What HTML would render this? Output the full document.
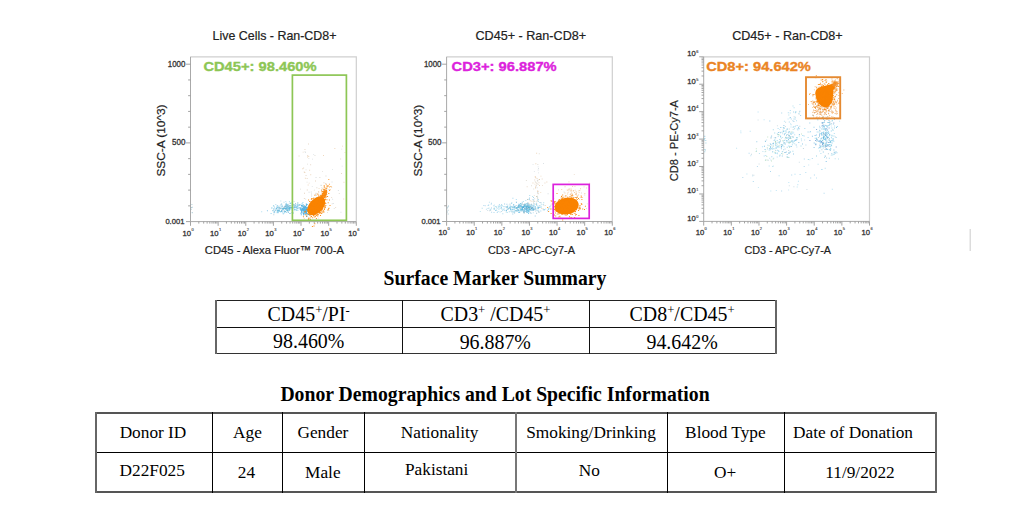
<!DOCTYPE html>
<html><head><meta charset="utf-8"><style>
html,body{margin:0;padding:0;background:#fff;}
body{width:1010px;height:513px;position:relative;overflow:hidden;}
.plots{position:absolute;left:0;top:0;}
.ln{position:absolute;}
.tx{position:absolute;transform:translateX(-50%);font-family:"Liberation Serif",serif;color:#000;line-height:0;white-space:nowrap;height:0;}
.tx sup{font-size:0.64em;vertical-align:0;position:relative;top:-0.53em;line-height:0;}
</style></head><body>
<svg class="plots" width="1010" height="513" viewBox="0 0 1010 513" font-family="Liberation Sans, sans-serif"><style>.tl{fill:#333;stroke:#333;stroke-width:0.3px}.te{fill:#4a4a4a;stroke:#4a4a4a;stroke-width:0.15px}</style><path d="M190.50 56.80H356.30V221.60" stroke="#cfcfcf" stroke-width="1.2" fill="none"/>
<path d="M190.50 56.80V221.60H356.30" stroke="#a9a9a9" stroke-width="1" fill="none"/>
<path d="M190.50 221.60v4.2M198.82 221.60v2M203.68 221.60v2M207.14 221.60v2M209.81 221.60v2M212.00 221.60v2M213.85 221.60v2M215.46 221.60v2M216.87 221.60v2M218.13 221.60v4.2M226.45 221.60v2M231.32 221.60v2M234.77 221.60v2M237.45 221.60v2M239.64 221.60v2M241.49 221.60v2M243.09 221.60v2M244.50 221.60v2M245.77 221.60v4.2M254.09 221.60v2M258.95 221.60v2M262.40 221.60v2M265.08 221.60v2M267.27 221.60v2M269.12 221.60v2M270.72 221.60v2M272.14 221.60v2M273.40 221.60v4.2M281.72 221.60v2M286.58 221.60v2M290.04 221.60v2M292.71 221.60v2M294.90 221.60v2M296.75 221.60v2M298.36 221.60v2M299.77 221.60v2M301.03 221.60v4.2M309.35 221.60v2M314.22 221.60v2M317.67 221.60v2M320.35 221.60v2M322.54 221.60v2M324.39 221.60v2M325.99 221.60v2M327.40 221.60v2M328.67 221.60v4.2M336.99 221.60v2M341.85 221.60v2M345.30 221.60v2M347.98 221.60v2M350.17 221.60v2M352.02 221.60v2M353.62 221.60v2M355.04 221.60v2M356.30 221.60v4.2" stroke="#9a9a9a" stroke-width="0.9" fill="none"/>
<text x="191.00" y="235.50" text-anchor="end" font-size="7.7" class="tl">10</text>
<text x="191.40" y="230.50" font-size="4.0" class="te">0</text>
<text x="218.63" y="235.50" text-anchor="end" font-size="7.7" class="tl">10</text>
<text x="219.03" y="230.50" font-size="4.0" class="te">1</text>
<text x="246.27" y="235.50" text-anchor="end" font-size="7.7" class="tl">10</text>
<text x="246.67" y="230.50" font-size="4.0" class="te">2</text>
<text x="273.90" y="235.50" text-anchor="end" font-size="7.7" class="tl">10</text>
<text x="274.30" y="230.50" font-size="4.0" class="te">3</text>
<text x="301.53" y="235.50" text-anchor="end" font-size="7.7" class="tl">10</text>
<text x="301.93" y="230.50" font-size="4.0" class="te">4</text>
<text x="329.17" y="235.50" text-anchor="end" font-size="7.7" class="tl">10</text>
<text x="329.57" y="230.50" font-size="4.0" class="te">5</text>
<text x="356.80" y="235.50" text-anchor="end" font-size="7.7" class="tl">10</text>
<text x="357.20" y="230.50" font-size="4.0" class="te">6</text>
<path d="M186.00 221.60h4.50M188.10 205.86h2.40M188.10 190.12h2.40M188.10 174.38h2.40M188.10 158.64h2.40M186.00 142.90h4.50M188.10 127.16h2.40M188.10 111.42h2.40M188.10 95.68h2.40M188.10 79.94h2.40M186.00 64.20h4.50" stroke="#9a9a9a" stroke-width="0.9" fill="none"/>
<text x="185.40" y="66.90" text-anchor="end" font-size="8.3" class="tl" textLength="17.6" lengthAdjust="spacingAndGlyphs">1000</text>
<text x="185.40" y="145.30" text-anchor="end" font-size="8.3" class="tl" textLength="13.4" lengthAdjust="spacingAndGlyphs">500</text>
<text x="184.40" y="223.60" text-anchor="end" font-size="7.8" class="tl" textLength="19.0" lengthAdjust="spacingAndGlyphs">0.001</text>
<path d="M191.4 204.1h1v1h-1zM191.8 212.2h1v1h-1zM191.7 212h1v1h-1zM190.8 208.7h1v1h-1zM191 207h1v1h-1zM191.8 206.8h1v1h-1z" fill="#8fb8c8" fill-opacity="0.7"/>
<path d="M292.5 204.1h1v1h-1zM294.6 209.5h1v1h-1zM285.5 207.8h1v1h-1zM270.6 213h1v1h-1zM296.8 205.9h1v1h-1zM294.6 206.7h1v1h-1zM283.3 207.4h1v1h-1zM294.6 206.3h1v1h-1zM293.9 209h1v1h-1zM284 212.2h1v1h-1zM287.3 210h1v1h-1zM289.1 207.7h1v1h-1zM288.2 205.9h1v1h-1zM289.9 208.3h1v1h-1zM285.9 202.8h1v1h-1zM280.7 204.3h1v1h-1zM296 206.8h1v1h-1zM286.3 206.7h1v1h-1zM282.7 212.7h1v1h-1zM281.2 210.4h1v1h-1zM282.3 209.3h1v1h-1zM284.9 207.9h1v1h-1zM296.2 210.1h1v1h-1zM295.3 205.4h1v1h-1zM289.9 202.9h1v1h-1zM284.2 205.7h1v1h-1zM299.2 204.3h1v1h-1zM287 210.2h1v1h-1zM286 204h1v1h-1zM291.7 204.5h1v1h-1zM278.3 210.5h1v1h-1zM280.3 207.4h1v1h-1zM291.3 205.4h1v1h-1zM276.7 205.3h1v1h-1z" fill="#4bb4e2" fill-opacity="0.6"/><path d="M287.4 205.7h1v1h-1zM295 204.6h1v1h-1zM287.8 209.3h1v1h-1zM282.4 208.3h1v1h-1zM276.2 208h1v1h-1zM297.2 207.9h1v1h-1zM285 205.6h1v1h-1zM287.1 209.6h1v1h-1zM277 210.6h1v1h-1zM280.2 207.7h1v1h-1zM288.8 208.9h1v1h-1zM287.5 206.5h1v1h-1zM285.2 203.4h1v1h-1zM286.3 206.2h1v1h-1zM281.5 205.8h1v1h-1zM285.1 206.8h1v1h-1zM285.8 208.3h1v1h-1zM296.6 208h1v1h-1zM302.4 208.9h1v1h-1zM279.6 205.6h1v1h-1zM274.3 211.5h1v1h-1zM278.8 207.3h1v1h-1zM302.4 201.9h1v1h-1zM286.3 204.6h1v1h-1zM297.5 206.3h1v1h-1zM277.4 207.4h1v1h-1zM287.4 207.8h1v1h-1zM282.1 211.5h1v1h-1zM301.2 209.1h1v1h-1zM287.6 211.6h1v1h-1zM295 208.8h1v1h-1zM280.6 211.3h1v1h-1zM291.5 212.1h1v1h-1zM278.9 210.2h1v1h-1zM294 208.5h1v1h-1zM296.2 209h1v1h-1zM276.2 206.4h1v1h-1zM284.4 210.9h1v1h-1zM277.6 212.3h1v1h-1zM275 210.1h1v1h-1zM286.2 205.5h1v1h-1zM278.1 207.8h1v1h-1zM288.3 207.9h1v1h-1zM301.6 202.9h1v1h-1zM274.3 207.8h1v1h-1z" fill="#62c0e6" fill-opacity="0.6"/><path d="M266.9 210.2h1v1h-1zM279 207.4h1v1h-1zM282.4 208.5h1v1h-1zM284.3 207.6h1v1h-1zM283.5 207.9h1v1h-1zM289.7 207.2h1v1h-1zM284.8 211h1v1h-1zM278.8 209.2h1v1h-1zM286.8 205.5h1v1h-1zM294.7 207.1h1v1h-1zM278.2 210.4h1v1h-1zM280.7 211h1v1h-1zM286.4 207.4h1v1h-1zM281.4 208.2h1v1h-1zM275.8 208h1v1h-1zM297.3 204.9h1v1h-1zM291.8 206.4h1v1h-1zM277.5 211.8h1v1h-1zM285.1 208.4h1v1h-1zM294 206.6h1v1h-1zM283.7 210.5h1v1h-1zM288.9 207.5h1v1h-1zM299.1 207.2h1v1h-1zM283.8 208h1v1h-1zM276.7 207.1h1v1h-1zM296.7 204.1h1v1h-1zM289.2 207.1h1v1h-1zM273.9 211.3h1v1h-1zM277.8 209.5h1v1h-1zM285.1 205.5h1v1h-1zM291 207h1v1h-1zM273 208.6h1v1h-1zM297.9 207.5h1v1h-1zM306.9 204.1h1v1h-1zM289.2 205.1h1v1h-1zM281.5 206.6h1v1h-1zM281.3 210.4h1v1h-1zM286.2 208.3h1v1h-1zM294.2 204.5h1v1h-1z" fill="#3a9fd6" fill-opacity="0.6"/><path d="M287.1 209.7h1v1h-1zM277.1 210.4h1v1h-1zM274.7 209h1v1h-1zM287.1 210.1h1v1h-1zM287.9 208h1v1h-1zM282.8 213.6h1v1h-1zM288.4 206.6h1v1h-1zM287.5 205h1v1h-1zM287.2 209.4h1v1h-1zM272.9 205.5h1v1h-1zM299.8 204.1h1v1h-1zM276.5 212.2h1v1h-1zM291.6 209.1h1v1h-1zM291.3 209.4h1v1h-1zM293 204.5h1v1h-1zM286.4 208.3h1v1h-1zM261.2 211.3h1v1h-1zM279 210.7h1v1h-1zM276.9 209.4h1v1h-1zM287.2 205.3h1v1h-1zM271.1 207.4h1v1h-1zM287.4 205.1h1v1h-1zM297.4 205.2h1v1h-1zM287.6 203.8h1v1h-1zM286.4 206.8h1v1h-1zM280.4 208.4h1v1h-1z" fill="#7fcbe8" fill-opacity="0.6"/><path d="M272.4 210h1v1h-1zM286.7 208.3h1v1h-1zM277.4 209.9h1v1h-1zM286.8 209.7h1v1h-1zM291.3 202.4h1v1h-1zM283.3 208.4h1v1h-1zM285.7 211.9h1v1h-1zM286.7 207h1v1h-1zM289.2 213.1h1v1h-1zM273.6 212.2h1v1h-1zM285.3 205.9h1v1h-1zM273.4 212.2h1v1h-1zM286.8 208.2h1v1h-1zM281.3 210.1h1v1h-1zM277.3 205.6h1v1h-1zM286.4 204.9h1v1h-1zM296.5 207.1h1v1h-1zM282.5 207.9h1v1h-1zM288.6 207.1h1v1h-1zM285.4 208.4h1v1h-1zM291 207.5h1v1h-1zM286.8 210.2h1v1h-1zM281.8 205.6h1v1h-1zM288.8 208.4h1v1h-1zM288.6 207.5h1v1h-1zM291.7 207.3h1v1h-1zM293 212.5h1v1h-1zM293.2 206.4h1v1h-1zM289.1 210.1h1v1h-1zM290 206.9h1v1h-1zM301.5 204.7h1v1h-1z" fill="#4aa6d4" fill-opacity="0.6"/><path d="M276.2 208.8h1v1h-1zM271.5 207.6h1v1h-1zM288.2 207.3h1v1h-1zM297.1 202.5h1v1h-1zM293.8 207.1h1v1h-1zM285.8 209.9h1v1h-1zM298.1 204.4h1v1h-1zM297.4 209.7h1v1h-1zM295.4 205.2h1v1h-1zM282.6 208.8h1v1h-1zM283.9 207.8h1v1h-1zM278.8 210.3h1v1h-1zM282.7 208.4h1v1h-1zM277.8 206.7h1v1h-1zM289.3 207.5h1v1h-1zM273.2 205.3h1v1h-1zM285.2 211.1h1v1h-1zM287.6 209.9h1v1h-1zM291.4 207.7h1v1h-1zM288.9 201.3h1v1h-1zM284.8 208h1v1h-1zM285.3 208.6h1v1h-1zM289.3 208.9h1v1h-1zM302.3 204.8h1v1h-1zM284.6 208.3h1v1h-1zM291.7 211.7h1v1h-1zM288.4 205.9h1v1h-1zM283.8 207.7h1v1h-1zM288.5 208.7h1v1h-1zM284.5 211h1v1h-1zM280 211.2h1v1h-1zM298.5 204.1h1v1h-1zM286 209.6h1v1h-1zM272.7 210.4h1v1h-1zM290 205.1h1v1h-1zM288.9 207.6h1v1h-1zM276.8 211.6h1v1h-1z" fill="#5cbcd6" fill-opacity="0.6"/><path d="M296.5 207.9h1v1h-1zM284.2 206.3h1v1h-1zM292.8 208.3h1v1h-1zM288.7 205.6h1v1h-1zM287.4 204.2h1v1h-1zM297.5 202.6h1v1h-1zM289.8 206.1h1v1h-1zM285.3 205.9h1v1h-1zM286.7 209h1v1h-1zM278.9 207.8h1v1h-1zM283.7 210.4h1v1h-1zM273.3 214.2h1v1h-1zM292.3 207.3h1v1h-1zM283.8 205.9h1v1h-1zM274.4 209.7h1v1h-1zM298.9 205.1h1v1h-1zM286.6 205.7h1v1h-1zM287.9 211.4h1v1h-1zM294.2 204.4h1v1h-1zM280.1 208h1v1h-1zM285.1 204.2h1v1h-1zM283.8 206.9h1v1h-1zM288.2 204.8h1v1h-1zM282.9 207.6h1v1h-1zM278.4 206.4h1v1h-1zM293.5 205.6h1v1h-1zM295.1 202.9h1v1h-1zM293.1 204.6h1v1h-1z" fill="#8fb4c4" fill-opacity="0.6"/>
<path d="M287.9 212h1v1h-1zM290 202.4h1v1h-1zM285.3 200.9h1v1h-1zM291.9 201.1h1v1h-1z" fill="#4bb4e2" fill-opacity="0.4"/><path d="M293.5 210.3h1v1h-1z" fill="#62c0e6" fill-opacity="0.4"/><path d="M274 206.6h1v1h-1zM290.2 212.9h1v1h-1zM283.5 201.7h1v1h-1z" fill="#3a9fd6" fill-opacity="0.4"/><path d="M295 202.9h1v1h-1zM280.4 204.3h1v1h-1zM296.3 206.5h1v1h-1zM280.9 203h1v1h-1zM293 203.8h1v1h-1z" fill="#7fcbe8" fill-opacity="0.4"/><path d="M275.3 204h1v1h-1z" fill="#4aa6d4" fill-opacity="0.4"/><path d="M280.3 200.4h1v1h-1zM276.5 210h1v1h-1zM276.2 210.2h1v1h-1zM286.9 203.9h1v1h-1zM295.9 206.3h1v1h-1zM283.2 208h1v1h-1zM292.6 207.1h1v1h-1z" fill="#5cbcd6" fill-opacity="0.4"/><path d="M292 213.5h1v1h-1zM293.6 201.1h1v1h-1zM289.4 203.1h1v1h-1zM281.4 203.8h1v1h-1z" fill="#8fb4c4" fill-opacity="0.4"/>
<path d="M304.7 207.1h1v1h-1zM299.8 207.2h1v1h-1zM305.2 207.1h1v1h-1zM304.4 210.1h1v1h-1zM305.5 208.2h1v1h-1zM304.7 207h1v1h-1zM302.8 207.3h1v1h-1zM306.8 208.6h1v1h-1zM302.7 209.2h1v1h-1zM304.7 211.4h1v1h-1zM300.3 208.2h1v1h-1zM306 216h1v1h-1zM306.4 208.5h1v1h-1zM307.8 214h1v1h-1zM303.7 208.8h1v1h-1zM307.4 209.8h1v1h-1zM305.4 207.8h1v1h-1zM310 212.2h1v1h-1zM306.3 210.7h1v1h-1zM300.9 212.6h1v1h-1zM304.5 210.7h1v1h-1zM305.6 208.2h1v1h-1zM301.3 211.7h1v1h-1zM302.7 209.3h1v1h-1zM302.9 209.1h1v1h-1zM300.8 214.2h1v1h-1zM306 212h1v1h-1zM308.6 208.1h1v1h-1zM300 208.7h1v1h-1zM301.6 209.2h1v1h-1zM302.9 204.5h1v1h-1zM303.9 205.6h1v1h-1zM305 209h1v1h-1zM303.8 209.6h1v1h-1zM302.8 208.4h1v1h-1zM301 210.7h1v1h-1zM310.1 213h1v1h-1zM307.9 210.2h1v1h-1zM304.4 213.5h1v1h-1zM304.3 209.4h1v1h-1zM304 209.9h1v1h-1zM303.5 209.6h1v1h-1zM301.9 209.4h1v1h-1zM309.2 207.6h1v1h-1zM304.5 211h1v1h-1zM305 206.2h1v1h-1zM304.9 211.9h1v1h-1zM305.2 209.6h1v1h-1zM307.1 206.7h1v1h-1zM304.2 208.2h1v1h-1zM305.8 203.6h1v1h-1zM302.6 208.7h1v1h-1zM306.4 210.5h1v1h-1zM306 204.6h1v1h-1zM305.8 208.2h1v1h-1zM303.6 211.3h1v1h-1zM300.8 205.1h1v1h-1zM302.4 206.1h1v1h-1zM303.5 210.9h1v1h-1zM306.6 213.1h1v1h-1zM302.7 205.9h1v1h-1zM302.1 207.8h1v1h-1zM302.4 211.5h1v1h-1zM301.4 205.2h1v1h-1zM305.8 208.7h1v1h-1zM305.3 209.5h1v1h-1zM305.8 209.1h1v1h-1zM307.4 209.6h1v1h-1zM305.7 210.2h1v1h-1zM301.3 210.2h1v1h-1zM304.1 210.2h1v1h-1zM303.1 214.5h1v1h-1zM303.6 206.5h1v1h-1zM300.7 210.1h1v1h-1zM303.7 207.8h1v1h-1zM304.1 207.9h1v1h-1zM305 207.3h1v1h-1zM305.3 211.9h1v1h-1zM308.9 205.1h1v1h-1zM302.8 207.8h1v1h-1zM305.1 206.1h1v1h-1zM303.5 209.8h1v1h-1zM301.6 207.9h1v1h-1zM301.6 204.7h1v1h-1zM301.1 209.6h1v1h-1zM304.6 208.9h1v1h-1zM300.4 209.7h1v1h-1zM306.6 210.3h1v1h-1zM303.5 207.4h1v1h-1zM305.3 207.6h1v1h-1zM301.4 208.4h1v1h-1zM307.7 208.9h1v1h-1zM306.5 207.5h1v1h-1zM305.9 207.3h1v1h-1zM306.4 215.7h1v1h-1zM305.6 207.7h1v1h-1zM304.6 210.4h1v1h-1zM306.6 207.4h1v1h-1zM300.7 210.1h1v1h-1zM304.6 209.8h1v1h-1zM307.5 209.3h1v1h-1zM305.2 206.2h1v1h-1zM308.2 214h1v1h-1zM306.3 209.5h1v1h-1zM306.4 213.8h1v1h-1zM302.5 209.9h1v1h-1zM306.1 211h1v1h-1zM303.9 210.6h1v1h-1zM304 210h1v1h-1zM303.2 206.8h1v1h-1zM305.2 211.7h1v1h-1zM302.3 209.6h1v1h-1zM304.9 206.4h1v1h-1zM303.9 206.8h1v1h-1zM308.9 214.3h1v1h-1zM308.5 207.4h1v1h-1zM306.1 209.2h1v1h-1zM306.1 213.2h1v1h-1zM302.7 213.1h1v1h-1zM305.7 213h1v1h-1zM304.3 207.7h1v1h-1zM305.7 211.1h1v1h-1zM305 210.7h1v1h-1zM301.5 204.7h1v1h-1zM307 210.5h1v1h-1zM304.9 209.6h1v1h-1zM306.2 207.6h1v1h-1zM302.9 209.6h1v1h-1zM305.7 205.2h1v1h-1zM306.4 207h1v1h-1zM303.3 213.4h1v1h-1zM303.1 206.4h1v1h-1zM304.6 212h1v1h-1zM306.6 207.6h1v1h-1zM306 210.9h1v1h-1zM303.5 210.9h1v1h-1zM304 208.2h1v1h-1zM303.5 210h1v1h-1zM304.1 208.1h1v1h-1zM304.6 212.5h1v1h-1zM305.7 211.5h1v1h-1zM307.5 210h1v1h-1zM308.5 205.8h1v1h-1zM305.9 208.1h1v1h-1zM309.8 212.3h1v1h-1zM299.6 208.6h1v1h-1zM306.6 210.9h1v1h-1zM306 208.8h1v1h-1zM306 210.8h1v1h-1zM305.3 212.1h1v1h-1zM300.4 212.7h1v1h-1zM303.2 212.6h1v1h-1zM303.2 207.5h1v1h-1zM304.5 207h1v1h-1zM301.2 206.4h1v1h-1zM304.9 210.7h1v1h-1zM306.5 208.4h1v1h-1zM306.7 208.8h1v1h-1zM304.8 211h1v1h-1zM306.4 207.9h1v1h-1z" fill="#3aa6dc" fill-opacity="0.85"/>
<path d="M315.7 193.4h0.9v0.9h-0.9zM306.8 189.6h0.9v0.9h-0.9zM323.5 182.3h0.9v0.9h-0.9zM320 194.5h0.9v0.9h-0.9zM322.1 192.9h0.9v0.9h-0.9zM324.6 192.1h0.9v0.9h-0.9zM312.8 202.2h0.9v0.9h-0.9zM304 192.8h0.9v0.9h-0.9zM331.2 197.2h0.9v0.9h-0.9zM315.1 180.5h0.9v0.9h-0.9zM316.2 194.8h0.9v0.9h-0.9zM335.2 207.2h0.9v0.9h-0.9zM322.2 191.1h0.9v0.9h-0.9zM324.5 203.9h0.9v0.9h-0.9zM313 201h0.9v0.9h-0.9zM316.9 203.4h0.9v0.9h-0.9z" fill="#c9a27a" fill-opacity="0.5"/><path d="M317.7 199h0.9v0.9h-0.9zM324.2 197.3h0.9v0.9h-0.9zM328.4 210h0.9v0.9h-0.9zM331.7 203.4h0.9v0.9h-0.9zM322 188.4h0.9v0.9h-0.9zM313.9 189.7h0.9v0.9h-0.9zM316.4 187.3h0.9v0.9h-0.9zM315.5 192.8h0.9v0.9h-0.9zM319.4 177.1h0.9v0.9h-0.9zM311.1 193.6h0.9v0.9h-0.9zM333.8 208.2h0.9v0.9h-0.9zM321 190h0.9v0.9h-0.9zM320.6 184.7h0.9v0.9h-0.9zM310.6 198.9h0.9v0.9h-0.9zM319.6 200.3h0.9v0.9h-0.9zM320.4 195.2h0.9v0.9h-0.9zM322 198.1h0.9v0.9h-0.9zM327 211.9h0.9v0.9h-0.9zM325.5 175.5h0.9v0.9h-0.9zM325.7 193.6h0.9v0.9h-0.9zM315.9 197h0.9v0.9h-0.9zM314.9 194.3h0.9v0.9h-0.9z" fill="#b9b2a0" fill-opacity="0.5"/><path d="M318.2 191.1h0.9v0.9h-0.9zM320.1 202.6h0.9v0.9h-0.9zM318.3 192.2h0.9v0.9h-0.9zM304.2 205.3h0.9v0.9h-0.9zM331.2 186.8h0.9v0.9h-0.9zM321.4 187.4h0.9v0.9h-0.9zM320.8 206.7h0.9v0.9h-0.9zM323 190.4h0.9v0.9h-0.9zM326.5 194.1h0.9v0.9h-0.9zM324.8 197.7h0.9v0.9h-0.9zM322.4 195.8h0.9v0.9h-0.9zM318.6 187.9h0.9v0.9h-0.9zM322 208.1h0.9v0.9h-0.9z" fill="#d8a060" fill-opacity="0.5"/><path d="M323.8 189.1h0.9v0.9h-0.9zM320.6 197.8h0.9v0.9h-0.9zM308.6 191.8h0.9v0.9h-0.9zM314.7 201.9h0.9v0.9h-0.9zM303 207.7h0.9v0.9h-0.9zM322.7 201h0.9v0.9h-0.9zM323 204h0.9v0.9h-0.9zM313.7 196.9h0.9v0.9h-0.9zM320.7 185.1h0.9v0.9h-0.9zM305.2 198.7h0.9v0.9h-0.9zM332.8 203.1h0.9v0.9h-0.9zM310.8 191.6h0.9v0.9h-0.9zM315.6 177h0.9v0.9h-0.9zM312.2 204.4h0.9v0.9h-0.9zM311.3 201.4h0.9v0.9h-0.9zM315.8 197h0.9v0.9h-0.9zM311 195.6h0.9v0.9h-0.9zM317.6 197.5h0.9v0.9h-0.9zM327.9 188.9h0.9v0.9h-0.9z" fill="#a8b8c0" fill-opacity="0.5"/>
<path d="M303.9 198.1h0.9v0.9h-0.9zM341.1 173h0.9v0.9h-0.9zM317.9 217.7h0.9v0.9h-0.9zM314.4 214.2h0.9v0.9h-0.9zM303.8 171.6h0.9v0.9h-0.9zM340.2 158.6h0.9v0.9h-0.9zM302.7 151.7h0.9v0.9h-0.9z" fill="#c9a27a" fill-opacity="0.45"/><path d="M322.1 171.2h0.9v0.9h-0.9zM311.5 210h0.9v0.9h-0.9zM300 188.7h0.9v0.9h-0.9zM341.3 148.7h0.9v0.9h-0.9zM338.8 193h0.9v0.9h-0.9z" fill="#b9b2a0" fill-opacity="0.45"/><path d="M344.5 152.2h0.9v0.9h-0.9zM323 155h0.9v0.9h-0.9zM303.8 218h0.9v0.9h-0.9zM309.3 211.6h0.9v0.9h-0.9zM342.1 145.7h0.9v0.9h-0.9zM317.4 194h0.9v0.9h-0.9zM343.3 198.5h0.9v0.9h-0.9zM334.4 148.1h0.9v0.9h-0.9zM343.5 181.8h0.9v0.9h-0.9z" fill="#d8a060" fill-opacity="0.45"/><path d="M311.8 185.9h0.9v0.9h-0.9zM325 183.1h0.9v0.9h-0.9zM341.7 165.7h0.9v0.9h-0.9zM332 168.9h0.9v0.9h-0.9zM313.2 154.2h0.9v0.9h-0.9zM340.5 211.8h0.9v0.9h-0.9zM331.6 181.5h0.9v0.9h-0.9zM332.2 198.8h0.9v0.9h-0.9zM337.9 190h0.9v0.9h-0.9z" fill="#a8b8c0" fill-opacity="0.45"/>
<path d="M308 143.6h0.9v0.9h-0.9zM306.7 178h0.9v0.9h-0.9zM298.6 155.5h0.9v0.9h-0.9zM304.5 149.1h0.9v0.9h-0.9zM307.3 155.1h0.9v0.9h-0.9zM303.2 167.5h0.9v0.9h-0.9zM310.2 164.3h0.9v0.9h-0.9zM305.6 175.1h0.9v0.9h-0.9zM308.7 182.7h0.9v0.9h-0.9z" fill="#c9a27a" fill-opacity="0.45"/><path d="M305.6 169.4h0.9v0.9h-0.9zM304.6 151.2h0.9v0.9h-0.9zM306.6 181.7h0.9v0.9h-0.9zM308.4 158.2h0.9v0.9h-0.9zM307 163.7h0.9v0.9h-0.9zM314.5 155.1h0.9v0.9h-0.9z" fill="#b9b2a0" fill-opacity="0.45"/><path d="M304.9 177.8h0.9v0.9h-0.9zM310.3 174.3h0.9v0.9h-0.9zM309.2 169.8h0.9v0.9h-0.9zM302.3 168.3h0.9v0.9h-0.9zM308.3 156.1h0.9v0.9h-0.9zM307 156.6h0.9v0.9h-0.9zM304.4 172.1h0.9v0.9h-0.9zM307.7 184.6h0.9v0.9h-0.9z" fill="#d8a060" fill-opacity="0.45"/><path d="M304.9 152h0.9v0.9h-0.9zM312.1 158.7h0.9v0.9h-0.9z" fill="#a8b8c0" fill-opacity="0.45"/>
<ellipse cx="316.3" cy="205.8" rx="11" ry="6.9" transform="rotate(-48 316.3 205.8)" fill="#f98300"/>
<path d="M320.4 200.7h1v1h-1zM315.7 207h1v1h-1zM315.5 203.6h1v1h-1zM320.8 210.2h1v1h-1zM309.6 214.7h1v1h-1zM312.9 210.7h1v1h-1zM319.8 201.6h1v1h-1zM315.1 197.9h1v1h-1zM319.4 198.9h1v1h-1zM319.5 203.3h1v1h-1zM302.9 216.3h1v1h-1zM321.8 208.8h1v1h-1zM318.3 205.1h1v1h-1zM314.3 216.4h1v1h-1zM324.2 197.1h1v1h-1zM310.7 202.6h1v1h-1zM328 208.6h1v1h-1zM323.1 205.6h1v1h-1zM315.8 200.6h1v1h-1zM318.5 196.1h1v1h-1zM316.2 207.5h1v1h-1zM321.3 202.6h1v1h-1zM315.8 201.9h1v1h-1zM310.9 212.2h1v1h-1zM309.4 205.8h1v1h-1zM309.4 210.6h1v1h-1zM304.3 211.2h1v1h-1zM309.7 214.2h1v1h-1zM323.9 209.1h1v1h-1zM307.8 211.3h1v1h-1zM319.6 200.8h1v1h-1zM319.8 211.8h1v1h-1zM311.5 204.4h1v1h-1zM311.5 213h1v1h-1zM313.7 200.7h1v1h-1zM313.6 212h1v1h-1zM316.9 201.3h1v1h-1zM320.7 204.3h1v1h-1zM307.6 213.6h1v1h-1zM316.4 202.3h1v1h-1zM306.2 215.4h1v1h-1zM324.2 206.3h1v1h-1zM314.3 223.2h1v1h-1zM314.2 213.7h1v1h-1zM324.5 202.4h1v1h-1zM313.6 202h1v1h-1zM317 200.9h1v1h-1zM313.5 225.4h1v1h-1zM324.6 207.1h1v1h-1zM316.6 214h1v1h-1zM327.7 202.2h1v1h-1zM312.7 202.8h1v1h-1zM309.1 200.9h1v1h-1zM309.2 214.3h1v1h-1zM311.5 210.2h1v1h-1zM321.4 211.4h1v1h-1zM321.8 199.4h1v1h-1zM319.3 197.9h1v1h-1zM317.5 209.8h1v1h-1zM310.1 211.1h1v1h-1zM310.9 212.5h1v1h-1zM321.2 196h1v1h-1zM314.7 202.4h1v1h-1zM307.7 208.1h1v1h-1zM329.5 204.9h1v1h-1zM316.3 201.6h1v1h-1zM318.4 201.5h1v1h-1zM320.6 202.7h1v1h-1zM319.3 206h1v1h-1zM312.6 207.5h1v1h-1zM307.5 213h1v1h-1zM309.7 212.3h1v1h-1zM312.4 210.7h1v1h-1zM314.2 199.9h1v1h-1zM310 207.3h1v1h-1zM324.5 206.6h1v1h-1zM319 200.8h1v1h-1zM318.3 194.8h1v1h-1zM320.9 196.8h1v1h-1zM311.9 226.1h1v1h-1zM320.2 195.5h1v1h-1zM316.4 204.4h1v1h-1zM312.4 201.4h1v1h-1zM314.7 210.3h1v1h-1zM320.7 207.9h1v1h-1zM323.5 211.5h1v1h-1zM313.9 209.9h1v1h-1zM304.3 211.8h1v1h-1zM319.3 196.9h1v1h-1zM318.4 203.1h1v1h-1zM310.7 209.9h1v1h-1zM312.7 207h1v1h-1zM321.5 203.9h1v1h-1zM311.2 206.2h1v1h-1zM317.2 204.2h1v1h-1zM328.5 207.8h1v1h-1zM319.9 201.6h1v1h-1zM313.1 204.4h1v1h-1zM309.4 207.6h1v1h-1zM313.3 206.6h1v1h-1zM318.4 201.2h1v1h-1zM311.9 203.6h1v1h-1zM324.9 199.2h1v1h-1zM326.4 199.2h1v1h-1zM322.1 198h1v1h-1zM327.3 209.4h1v1h-1zM314.4 214.8h1v1h-1zM324.9 198.7h1v1h-1zM323.3 205.4h1v1h-1zM314.6 210.1h1v1h-1zM310.4 208.3h1v1h-1zM313.1 208.5h1v1h-1zM318.3 206.3h1v1h-1zM315.9 218.1h1v1h-1zM323.6 202h1v1h-1zM314.4 207.3h1v1h-1zM320 204.2h1v1h-1zM311 216.1h1v1h-1zM323.8 186.4h1v1h-1zM321.8 201.9h1v1h-1zM319.9 210h1v1h-1zM311.5 212.1h1v1h-1zM322.2 198h1v1h-1zM314.8 208.2h1v1h-1zM318.9 212.2h1v1h-1zM314.8 212.6h1v1h-1zM312.7 213.8h1v1h-1zM308.1 199.4h1v1h-1zM313.1 203h1v1h-1zM318.9 212.1h1v1h-1zM308.1 208.5h1v1h-1zM323.1 199h1v1h-1zM324.2 199h1v1h-1zM312.2 210h1v1h-1zM324.6 202.2h1v1h-1zM316.4 205.9h1v1h-1zM314.1 204.8h1v1h-1zM325 196.2h1v1h-1zM309.8 210.1h1v1h-1zM321.5 203.9h1v1h-1zM313.7 204.7h1v1h-1zM311.4 201.2h1v1h-1zM312.9 214.4h1v1h-1zM315.3 209.2h1v1h-1zM323.7 201.5h1v1h-1zM322.7 211.4h1v1h-1zM318.2 201.5h1v1h-1zM320.8 203.3h1v1h-1zM312.7 210.2h1v1h-1zM309.7 201.3h1v1h-1zM314.7 205.9h1v1h-1zM309.4 203.6h1v1h-1zM314.6 207.5h1v1h-1zM313.4 202.2h1v1h-1zM315.5 199.4h1v1h-1zM319.2 210.4h1v1h-1zM311.7 207.9h1v1h-1zM320 199.4h1v1h-1zM315.6 207.9h1v1h-1zM314.4 194.7h1v1h-1zM309.6 207.2h1v1h-1zM308.9 208.9h1v1h-1zM313.4 210.8h1v1h-1zM312.7 210.5h1v1h-1zM315.9 201.9h1v1h-1zM321.7 209.5h1v1h-1zM315.8 202.5h1v1h-1zM313.3 203.7h1v1h-1zM320.1 206.8h1v1h-1zM312 209.3h1v1h-1zM319.8 199h1v1h-1zM314.1 202.1h1v1h-1zM311.1 208.5h1v1h-1zM324.6 194.2h1v1h-1zM312.4 206.9h1v1h-1zM317.5 208.3h1v1h-1zM323.1 210.3h1v1h-1zM321.4 208.5h1v1h-1zM319.3 206h1v1h-1zM309.7 212.4h1v1h-1zM315.3 205.5h1v1h-1zM309.5 218.5h1v1h-1zM313.3 206.5h1v1h-1zM314.5 206.4h1v1h-1zM314.4 200.5h1v1h-1zM313.1 211.1h1v1h-1zM315.8 204.1h1v1h-1zM311.4 206.4h1v1h-1zM319.5 209.2h1v1h-1zM316.1 214.9h1v1h-1zM318.7 200.5h1v1h-1zM315.5 198.2h1v1h-1zM305 210.8h1v1h-1zM313.6 206.9h1v1h-1zM314.3 208.5h1v1h-1zM308.4 217.4h1v1h-1zM308.2 210.9h1v1h-1zM311.2 204.8h1v1h-1zM307.4 209.8h1v1h-1zM318 207.4h1v1h-1zM315.9 200.5h1v1h-1zM310.2 207.2h1v1h-1zM312.4 198.3h1v1h-1zM320.3 198.6h1v1h-1zM313.9 210.5h1v1h-1zM321.8 201.7h1v1h-1zM321.3 201.1h1v1h-1zM325.3 203.1h1v1h-1zM320 210h1v1h-1zM317.3 205.2h1v1h-1zM311.5 209.5h1v1h-1zM315.9 198.6h1v1h-1zM320.1 203.6h1v1h-1zM311.1 198.7h1v1h-1zM317.7 208h1v1h-1zM313.2 209.7h1v1h-1zM307.9 219h1v1h-1zM315.9 211.3h1v1h-1zM310.3 216.5h1v1h-1zM317.6 209.1h1v1h-1zM310.5 208.7h1v1h-1zM323.6 192.8h1v1h-1zM312.4 208.5h1v1h-1zM315.3 213.8h1v1h-1zM321.8 195.6h1v1h-1zM312.2 217.2h1v1h-1zM323.5 202.6h1v1h-1zM318.8 197.9h1v1h-1zM311.6 203h1v1h-1zM313 215.2h1v1h-1zM320 215h1v1h-1zM314.8 203.8h1v1h-1zM325 206.6h1v1h-1zM314.9 200.3h1v1h-1zM321.9 207.6h1v1h-1zM311.9 206.2h1v1h-1zM321.1 201.3h1v1h-1zM310.4 210.1h1v1h-1zM313.9 210.2h1v1h-1zM320.1 208.3h1v1h-1zM314.9 198.3h1v1h-1zM320.7 206.2h1v1h-1zM321.3 206.3h1v1h-1zM311.2 206h1v1h-1zM317.3 198.5h1v1h-1zM309.9 218.9h1v1h-1zM312.3 208.5h1v1h-1zM306.4 209.1h1v1h-1zM310.2 210.4h1v1h-1zM311.2 198h1v1h-1zM316.1 199.1h1v1h-1zM313.6 212.7h1v1h-1zM311.5 202.2h1v1h-1zM321.8 194.6h1v1h-1zM318 205.1h1v1h-1zM321.1 197.8h1v1h-1zM318.5 199h1v1h-1zM319 198.4h1v1h-1zM320.2 212.5h1v1h-1zM318 204.6h1v1h-1zM327.1 195.9h1v1h-1zM314.9 211.7h1v1h-1zM314.4 214.5h1v1h-1zM319.9 198.5h1v1h-1zM314.1 209.3h1v1h-1zM313.5 203.2h1v1h-1zM312.9 197.7h1v1h-1zM313.2 206.8h1v1h-1zM316 207.9h1v1h-1zM312.7 213.3h1v1h-1zM313.6 205h1v1h-1zM306.9 209.3h1v1h-1zM315.1 201.5h1v1h-1zM319.7 208.3h1v1h-1zM325.3 204.9h1v1h-1zM311.9 204.4h1v1h-1zM321.6 201.7h1v1h-1zM321.2 200.4h1v1h-1zM324 202.2h1v1h-1zM320.9 203.7h1v1h-1zM318.7 204.5h1v1h-1zM320.2 207.3h1v1h-1zM319.1 212.8h1v1h-1zM318.7 208.9h1v1h-1zM315.2 205.6h1v1h-1zM324.2 195.2h1v1h-1zM308.7 210.1h1v1h-1zM321.2 213h1v1h-1zM319.9 207.2h1v1h-1zM313 211.6h1v1h-1zM324.4 207.3h1v1h-1zM315 210.7h1v1h-1zM314.7 201.7h1v1h-1zM315.5 205.2h1v1h-1zM307.9 218.6h1v1h-1zM317.4 202h1v1h-1zM314.8 216.1h1v1h-1zM320.4 207.2h1v1h-1zM320.9 197.6h1v1h-1zM319.1 201.2h1v1h-1zM315.8 205.9h1v1h-1zM319.5 208.7h1v1h-1zM316.4 204.8h1v1h-1zM316.1 208h1v1h-1zM311 208.8h1v1h-1zM314.4 204.6h1v1h-1zM314 204.8h1v1h-1zM328.9 199.6h1v1h-1zM318.1 203.5h1v1h-1zM326.8 196.1h1v1h-1zM316.8 207h1v1h-1zM321.7 208h1v1h-1zM322.3 211.4h1v1h-1zM314.5 211.9h1v1h-1zM317.2 215.4h1v1h-1zM314.7 207.2h1v1h-1zM324 204.6h1v1h-1zM310.5 210.3h1v1h-1zM310.6 212.9h1v1h-1zM314.8 205.4h1v1h-1zM312.2 208.1h1v1h-1zM314.6 210.8h1v1h-1zM317.3 193.4h1v1h-1zM314.6 205.3h1v1h-1zM315.7 200.9h1v1h-1zM312.7 203.8h1v1h-1zM319.6 202.7h1v1h-1zM316.7 207.5h1v1h-1zM310.7 202.9h1v1h-1zM319.7 203.7h1v1h-1zM318.5 209.1h1v1h-1zM318.4 197.1h1v1h-1zM317.4 213.6h1v1h-1zM320.3 197h1v1h-1zM309.3 209.8h1v1h-1zM309.5 204.1h1v1h-1zM312.7 202.3h1v1h-1zM313.7 214h1v1h-1zM313.1 208.9h1v1h-1zM321.4 204.9h1v1h-1zM315 207.5h1v1h-1zM317.8 214.3h1v1h-1zM315.9 199.8h1v1h-1zM318.4 207.6h1v1h-1zM323.7 208.3h1v1h-1zM320.7 197.8h1v1h-1zM312.2 202.9h1v1h-1zM317.8 205h1v1h-1zM328.3 193h1v1h-1zM305.2 214.2h1v1h-1z" fill="#f98300" fill-opacity="0.9"/>
<path d="M327.3 185.2h1v1h-1zM323.8 189.1h1v1h-1zM325.4 190.9h1v1h-1zM321.4 194.9h1v1h-1zM324.6 188.6h1v1h-1zM323.8 186.6h1v1h-1zM328.9 183.7h1v1h-1zM322.9 195.1h1v1h-1zM323.4 192.5h1v1h-1zM319.9 197.4h1v1h-1zM325.9 193.4h1v1h-1zM323.7 185h1v1h-1zM322.6 200.9h1v1h-1zM322.4 198.1h1v1h-1zM323.9 190.1h1v1h-1zM323.6 193.7h1v1h-1zM320 195.3h1v1h-1zM329.1 186.5h1v1h-1zM321.5 192.4h1v1h-1zM328.3 179h1v1h-1zM325.5 192.8h1v1h-1zM319.4 202h1v1h-1zM326.3 187.8h1v1h-1zM326.8 186.3h1v1h-1zM322.4 193h1v1h-1zM324.5 188.8h1v1h-1zM325.5 197h1v1h-1zM324.8 194.7h1v1h-1zM322.3 199.3h1v1h-1zM320.6 200.9h1v1h-1zM323.4 189.6h1v1h-1zM322.9 188.8h1v1h-1zM322.4 199.3h1v1h-1zM323.4 191.1h1v1h-1zM325.4 187.5h1v1h-1zM322.4 191h1v1h-1zM321.4 190.9h1v1h-1zM325.9 188.2h1v1h-1zM325.7 183.8h1v1h-1zM330.4 185.9h1v1h-1zM325.9 195.6h1v1h-1zM326.3 185.4h1v1h-1zM322.7 201h1v1h-1zM323.6 189.3h1v1h-1zM325.6 193.9h1v1h-1zM329 189.9h1v1h-1zM328 185.5h1v1h-1zM329.5 189.2h1v1h-1zM321.1 189.4h1v1h-1zM320.3 201.2h1v1h-1zM324 191.2h1v1h-1zM322.2 200h1v1h-1zM322.3 196.8h1v1h-1zM326 190.3h1v1h-1zM324.6 191.7h1v1h-1zM320.5 197.1h1v1h-1zM319.8 196.5h1v1h-1zM326.3 191.7h1v1h-1zM323.7 189.8h1v1h-1zM323.8 195.6h1v1h-1z" fill="#f98300" fill-opacity="0.75"/>
<ellipse cx="323.8" cy="195" rx="2.2" ry="6" transform="rotate(28 323.8 195)" fill="#f98300" fill-opacity="0.85"/>
<rect x="292.4" y="75.1" width="54.0" height="145.2" fill="none" stroke="#8dc655" stroke-width="1.7"/>
<path d="M446.60 56.80H612.30V221.50" stroke="#cfcfcf" stroke-width="1.2" fill="none"/>
<path d="M446.60 56.80V221.50H612.30" stroke="#a9a9a9" stroke-width="1" fill="none"/>
<path d="M446.60 221.50v4.2M454.91 221.50v2M459.78 221.50v2M463.23 221.50v2M465.90 221.50v2M468.09 221.50v2M469.94 221.50v2M471.54 221.50v2M472.95 221.50v2M474.22 221.50v4.2M482.53 221.50v2M487.39 221.50v2M490.84 221.50v2M493.52 221.50v2M495.71 221.50v2M497.56 221.50v2M499.16 221.50v2M500.57 221.50v2M501.83 221.50v4.2M510.15 221.50v2M515.01 221.50v2M518.46 221.50v2M521.14 221.50v2M523.32 221.50v2M525.17 221.50v2M526.77 221.50v2M528.19 221.50v2M529.45 221.50v4.2M537.76 221.50v2M542.63 221.50v2M546.08 221.50v2M548.75 221.50v2M550.94 221.50v2M552.79 221.50v2M554.39 221.50v2M555.80 221.50v2M557.07 221.50v4.2M565.38 221.50v2M570.24 221.50v2M573.69 221.50v2M576.37 221.50v2M578.56 221.50v2M580.41 221.50v2M582.01 221.50v2M583.42 221.50v2M584.68 221.50v4.2M593.00 221.50v2M597.86 221.50v2M601.31 221.50v2M603.99 221.50v2M606.17 221.50v2M608.02 221.50v2M609.62 221.50v2M611.04 221.50v2M612.30 221.50v4.2" stroke="#9a9a9a" stroke-width="0.9" fill="none"/>
<text x="447.10" y="235.40" text-anchor="end" font-size="7.7" class="tl">10</text>
<text x="447.50" y="230.40" font-size="4.0" class="te">0</text>
<text x="474.72" y="235.40" text-anchor="end" font-size="7.7" class="tl">10</text>
<text x="475.12" y="230.40" font-size="4.0" class="te">1</text>
<text x="502.33" y="235.40" text-anchor="end" font-size="7.7" class="tl">10</text>
<text x="502.73" y="230.40" font-size="4.0" class="te">2</text>
<text x="529.95" y="235.40" text-anchor="end" font-size="7.7" class="tl">10</text>
<text x="530.35" y="230.40" font-size="4.0" class="te">3</text>
<text x="557.57" y="235.40" text-anchor="end" font-size="7.7" class="tl">10</text>
<text x="557.97" y="230.40" font-size="4.0" class="te">4</text>
<text x="585.18" y="235.40" text-anchor="end" font-size="7.7" class="tl">10</text>
<text x="585.58" y="230.40" font-size="4.0" class="te">5</text>
<text x="612.80" y="235.40" text-anchor="end" font-size="7.7" class="tl">10</text>
<text x="613.20" y="230.40" font-size="4.0" class="te">6</text>
<path d="M442.10 221.50h4.50M444.20 205.77h2.40M444.20 190.04h2.40M444.20 174.31h2.40M444.20 158.58h2.40M442.10 142.85h4.50M444.20 127.12h2.40M444.20 111.39h2.40M444.20 95.66h2.40M444.20 79.93h2.40M442.10 64.20h4.50" stroke="#9a9a9a" stroke-width="0.9" fill="none"/>
<text x="441.50" y="66.90" text-anchor="end" font-size="8.3" class="tl" textLength="17.6" lengthAdjust="spacingAndGlyphs">1000</text>
<text x="441.50" y="145.25" text-anchor="end" font-size="8.3" class="tl" textLength="13.4" lengthAdjust="spacingAndGlyphs">500</text>
<text x="440.50" y="223.50" text-anchor="end" font-size="7.8" class="tl" textLength="19.0" lengthAdjust="spacingAndGlyphs">0.001</text>
<path d="M447.4 206.4h1v1h-1zM447.6 209.7h1v1h-1zM446.8 211.6h1v1h-1zM448 205.5h1v1h-1zM447.7 213.6h1v1h-1zM446.8 207.5h1v1h-1z" fill="#8fb8c8" fill-opacity="0.7"/>
<path d="M525 210.7h1v1h-1zM528.7 209.1h1v1h-1zM527.1 211.8h1v1h-1zM527.4 203.4h1v1h-1zM513.6 207.7h1v1h-1zM537.4 205.6h1v1h-1zM532.5 208.2h1v1h-1zM501 207.1h1v1h-1zM514.1 206.3h1v1h-1zM510.3 208.6h1v1h-1zM536.7 210.3h1v1h-1zM517.9 205.4h1v1h-1zM522.4 205.9h1v1h-1zM501.1 208.2h1v1h-1zM527.1 209.8h1v1h-1zM513.4 212.1h1v1h-1zM512.4 197.8h1v1h-1zM532.6 209.2h1v1h-1zM528.5 208.1h1v1h-1zM505.7 210h1v1h-1zM521.7 209.1h1v1h-1zM510 208h1v1h-1zM540.3 210.5h1v1h-1zM498.9 205.6h1v1h-1zM529.6 209.9h1v1h-1zM512.9 205.4h1v1h-1zM521.2 208.6h1v1h-1zM521.7 201.7h1v1h-1zM527.5 203.1h1v1h-1zM518.2 206.3h1v1h-1zM507.1 206.1h1v1h-1zM534.3 206.2h1v1h-1zM510.1 208.1h1v1h-1zM513.6 209.5h1v1h-1zM508.8 211.2h1v1h-1z" fill="#4bb4e2" fill-opacity="0.5"/><path d="M529.8 204.9h1v1h-1zM514.3 206.2h1v1h-1zM499.6 211.6h1v1h-1zM515.5 210.2h1v1h-1zM510.4 210.8h1v1h-1zM511.1 203h1v1h-1zM543.6 209.3h1v1h-1zM521.9 206.7h1v1h-1zM524.6 205.6h1v1h-1zM529.3 211.6h1v1h-1zM510.3 206.2h1v1h-1zM508.8 208h1v1h-1zM519.4 207.7h1v1h-1zM520.8 206.3h1v1h-1zM513 204.2h1v1h-1zM525.4 205.4h1v1h-1zM525.7 208.6h1v1h-1zM509.1 206.9h1v1h-1zM497.3 207.7h1v1h-1zM498.4 208.7h1v1h-1zM540.4 202.2h1v1h-1zM547.8 208.7h1v1h-1zM519.9 210.6h1v1h-1zM527.8 205.8h1v1h-1zM502.3 213.2h1v1h-1zM527.4 209.2h1v1h-1zM517.1 207.1h1v1h-1zM519.2 212h1v1h-1zM521.5 208.6h1v1h-1zM548.6 208.2h1v1h-1zM521.5 210.1h1v1h-1zM513.8 206.5h1v1h-1z" fill="#62c0e6" fill-opacity="0.5"/><path d="M537.7 208.3h1v1h-1zM513.3 204.3h1v1h-1zM504.1 203.5h1v1h-1zM506.5 208.8h1v1h-1zM533.2 203.6h1v1h-1zM520.7 205.2h1v1h-1zM536.1 202.8h1v1h-1zM517.7 206.3h1v1h-1zM517.7 207h1v1h-1zM515.6 204.9h1v1h-1zM535.1 207.5h1v1h-1zM522.8 207h1v1h-1zM534.7 215.4h1v1h-1zM519.9 209h1v1h-1zM526.6 202.9h1v1h-1zM514.2 211.4h1v1h-1zM524 208.3h1v1h-1zM522.1 209.5h1v1h-1zM522.5 209h1v1h-1zM523.3 211h1v1h-1zM512.3 213.4h1v1h-1zM528 206.4h1v1h-1zM516.3 207.7h1v1h-1zM511.6 210.5h1v1h-1zM520.7 205.2h1v1h-1zM518.7 206.6h1v1h-1zM531 209.7h1v1h-1z" fill="#3a9fd6" fill-opacity="0.5"/><path d="M506 210.5h1v1h-1zM522.8 206.8h1v1h-1zM536.2 204.7h1v1h-1zM519.1 206.7h1v1h-1zM520 203.5h1v1h-1zM503.4 209.5h1v1h-1zM518.2 205.2h1v1h-1zM515.6 207.9h1v1h-1zM513.2 207.1h1v1h-1zM508.7 204.6h1v1h-1zM513.1 210.9h1v1h-1zM545.1 208.4h1v1h-1zM533.7 204.9h1v1h-1zM523.1 206.9h1v1h-1zM535 206.1h1v1h-1zM521.2 208.3h1v1h-1zM510.1 204.7h1v1h-1zM513.9 210.7h1v1h-1zM524.1 208h1v1h-1zM520.5 206h1v1h-1zM506.1 206.6h1v1h-1zM531.7 205.8h1v1h-1zM517.7 209.9h1v1h-1zM525.2 206.4h1v1h-1zM530.1 206.8h1v1h-1zM549.3 206.7h1v1h-1zM520.7 208.2h1v1h-1zM542.6 204.1h1v1h-1zM521.4 207.5h1v1h-1zM527.1 207.9h1v1h-1zM534.9 205.9h1v1h-1zM523.4 205.4h1v1h-1zM538.8 211.7h1v1h-1zM517.5 206.6h1v1h-1zM532.8 212.2h1v1h-1z" fill="#7fcbe8" fill-opacity="0.5"/><path d="M491 207.6h1v1h-1zM549.4 206h1v1h-1zM539.3 204.9h1v1h-1zM521.4 210.7h1v1h-1zM527.4 209.9h1v1h-1zM517.8 205.6h1v1h-1zM519.3 205.5h1v1h-1zM516 207.5h1v1h-1zM519.1 205h1v1h-1zM519.4 205.6h1v1h-1zM531.7 207.9h1v1h-1zM547.1 210.2h1v1h-1zM523 205.5h1v1h-1zM523.1 206.6h1v1h-1zM516.4 209.7h1v1h-1zM515.7 209.8h1v1h-1zM532.5 206.8h1v1h-1zM538.1 210.5h1v1h-1zM547.9 208.6h1v1h-1zM528 207h1v1h-1zM506.4 203.8h1v1h-1zM506 210h1v1h-1zM524.7 206.7h1v1h-1zM531 206.7h1v1h-1zM511.6 206.1h1v1h-1zM526.2 206.3h1v1h-1zM525.8 206.8h1v1h-1zM513.5 209h1v1h-1zM519.2 205.3h1v1h-1zM530.5 213h1v1h-1zM524.2 205.3h1v1h-1zM526.6 210.1h1v1h-1zM520.9 203.4h1v1h-1zM532.2 209.5h1v1h-1zM531.7 208.3h1v1h-1z" fill="#4aa6d4" fill-opacity="0.5"/><path d="M525.9 209.3h1v1h-1zM528.2 212.5h1v1h-1zM511.3 202.3h1v1h-1zM515.2 207.8h1v1h-1zM509.9 206.7h1v1h-1zM543.2 202.2h1v1h-1zM526.2 208.4h1v1h-1zM526.6 209.4h1v1h-1zM517.9 205.4h1v1h-1zM511.6 211.6h1v1h-1zM523.9 206.2h1v1h-1zM481.7 207.8h1v1h-1zM519.4 204.2h1v1h-1zM515.5 207h1v1h-1zM506.7 212h1v1h-1zM536.3 209.6h1v1h-1zM510.4 209.4h1v1h-1zM522.5 206.2h1v1h-1zM519.6 208h1v1h-1zM507.1 206.9h1v1h-1zM499.7 207.7h1v1h-1zM523.1 212.2h1v1h-1zM510.5 209.1h1v1h-1zM501.2 205.3h1v1h-1zM515.9 207.6h1v1h-1zM516.8 210.6h1v1h-1zM526.1 210h1v1h-1zM536.7 207.8h1v1h-1zM529.8 206.1h1v1h-1zM525.7 203.1h1v1h-1zM515.5 210.8h1v1h-1z" fill="#5cbcd6" fill-opacity="0.5"/><path d="M507.8 208.8h1v1h-1zM501.1 211.1h1v1h-1zM523.8 212.7h1v1h-1zM528.9 206.6h1v1h-1zM531.6 204.6h1v1h-1zM509.5 203.6h1v1h-1zM550.3 204.7h1v1h-1zM514.1 212.8h1v1h-1zM538 211.5h1v1h-1zM522.8 209.3h1v1h-1zM530.2 211.9h1v1h-1zM519.1 210.4h1v1h-1zM523.4 207h1v1h-1zM514.7 206.4h1v1h-1zM530.2 209.3h1v1h-1zM524 204.2h1v1h-1zM519.6 205.3h1v1h-1zM534.4 208.3h1v1h-1zM518.9 206.7h1v1h-1zM527.9 206.4h1v1h-1zM526.5 208.6h1v1h-1zM493.8 207.8h1v1h-1zM515.8 207.4h1v1h-1zM529.8 208.3h1v1h-1zM535 210.4h1v1h-1zM522 202.8h1v1h-1zM533.4 208.7h1v1h-1zM514.1 205.8h1v1h-1zM515.6 210.1h1v1h-1zM533.2 210.1h1v1h-1zM543.1 204.6h1v1h-1zM518.2 205.8h1v1h-1zM527 207.5h1v1h-1zM507.3 207.8h1v1h-1zM489.1 210.3h1v1h-1z" fill="#8fb4c4" fill-opacity="0.5"/>
<path d="M518.3 205.2h1v1h-1zM493.8 207.8h1v1h-1zM510.3 208.8h1v1h-1zM512.9 206.6h1v1h-1zM485.9 208.7h1v1h-1zM497.6 210.9h1v1h-1zM497.7 205.4h1v1h-1zM487.6 205.1h1v1h-1zM495.6 210.1h1v1h-1zM501.8 208.8h1v1h-1zM504.3 206.1h1v1h-1zM496.2 209.8h1v1h-1z" fill="#4bb4e2" fill-opacity="0.4"/><path d="M498.3 207h1v1h-1zM524.3 210.8h1v1h-1zM523 205.9h1v1h-1zM498.4 205.9h1v1h-1zM518.8 205.8h1v1h-1zM502.9 206h1v1h-1zM502 210h1v1h-1z" fill="#62c0e6" fill-opacity="0.4"/><path d="M491.1 211.7h1v1h-1zM496.8 211.9h1v1h-1zM489.7 208.8h1v1h-1zM488.2 204.5h1v1h-1zM505.6 206.2h1v1h-1zM508.1 208h1v1h-1zM490.9 202.8h1v1h-1zM503.6 207.8h1v1h-1zM493.5 211.9h1v1h-1zM501.1 204h1v1h-1zM484.7 205.3h1v1h-1zM507.1 205.4h1v1h-1zM493.3 205.3h1v1h-1z" fill="#3a9fd6" fill-opacity="0.4"/><path d="M500.2 205h1v1h-1zM523.9 208.5h1v1h-1zM495.8 208.6h1v1h-1zM506.6 206.9h1v1h-1zM516.6 210.9h1v1h-1zM503.1 208.9h1v1h-1zM493.9 204.6h1v1h-1z" fill="#7fcbe8" fill-opacity="0.4"/><path d="M509 206.4h1v1h-1zM490.7 203.8h1v1h-1zM500.4 206.2h1v1h-1zM483.3 204.9h1v1h-1zM510 208.7h1v1h-1zM487.5 208h1v1h-1zM495 210h1v1h-1zM517.2 209.7h1v1h-1zM504.2 209.8h1v1h-1zM498.9 203.9h1v1h-1zM517.4 206.6h1v1h-1z" fill="#4aa6d4" fill-opacity="0.4"/><path d="M494.1 209.1h1v1h-1zM493.1 208.5h1v1h-1zM507.2 209h1v1h-1zM479.8 211.1h1v1h-1zM495.9 206.9h1v1h-1zM501.9 205.3h1v1h-1zM505.6 211.6h1v1h-1zM490.4 209.2h1v1h-1zM514.9 209.9h1v1h-1zM495.8 205.9h1v1h-1zM488.9 201.8h1v1h-1zM494.8 205.9h1v1h-1zM488.5 207.4h1v1h-1zM508.6 207.5h1v1h-1z" fill="#5cbcd6" fill-opacity="0.4"/><path d="M506.1 206.4h1v1h-1zM487.2 210.1h1v1h-1zM505.7 207.1h1v1h-1zM490 209.9h1v1h-1zM511.7 211.4h1v1h-1zM542.5 209.3h1v1h-1z" fill="#8fb4c4" fill-opacity="0.4"/>
<path d="M515.8 198.9h1v1h-1zM529.2 195.1h1v1h-1z" fill="#4bb4e2" fill-opacity="0.45"/><path d="M528.9 198.8h1v1h-1zM536.5 195.9h1v1h-1zM540.6 205.7h1v1h-1zM525.3 199.9h1v1h-1zM527 198.9h1v1h-1z" fill="#62c0e6" fill-opacity="0.45"/><path d="M537.8 198.9h1v1h-1z" fill="#3a9fd6" fill-opacity="0.45"/><path d="M528.3 205.7h1v1h-1zM537.5 200.3h1v1h-1zM539 202h1v1h-1zM534.3 200.9h1v1h-1z" fill="#7fcbe8" fill-opacity="0.45"/><path d="M534.2 203.6h1v1h-1zM532.9 199.6h1v1h-1zM530.4 204h1v1h-1zM533 197h1v1h-1zM532.5 198.9h1v1h-1zM529 197.5h1v1h-1zM530.6 204.6h1v1h-1zM528.6 198.8h1v1h-1z" fill="#4aa6d4" fill-opacity="0.45"/><path d="M522.9 200.9h1v1h-1zM537.9 200.9h1v1h-1zM540.8 203.8h1v1h-1zM532.1 196h1v1h-1z" fill="#5cbcd6" fill-opacity="0.45"/><path d="M536.9 197.6h1v1h-1zM537.1 199.4h1v1h-1z" fill="#8fb4c4" fill-opacity="0.45"/><path d="M528.4 203.1h1v1h-1zM531.4 200.8h1v1h-1zM527.3 199h1v1h-1zM544.7 204.9h1v1h-1zM537.2 197.4h1v1h-1z" fill="#c9a27a" fill-opacity="0.45"/><path d="M533.1 202.2h1v1h-1z" fill="#b9b2a0" fill-opacity="0.45"/><path d="M536.1 196h1v1h-1zM535.5 203.8h1v1h-1zM533.5 200.4h1v1h-1zM529.7 200.2h1v1h-1zM536.4 200.8h1v1h-1z" fill="#d8a060" fill-opacity="0.45"/><path d="M547.6 193.2h1v1h-1zM534.1 198.3h1v1h-1zM540.2 201.9h1v1h-1z" fill="#a8b8c0" fill-opacity="0.45"/>
<path d="M527.6 208.4h1v1h-1zM519.8 205.6h1v1h-1zM525.9 208.7h1v1h-1zM526.5 206.6h1v1h-1zM518.4 209.5h1v1h-1zM521.9 208.2h1v1h-1zM526.9 205.7h1v1h-1zM518.5 212h1v1h-1zM543.6 209.3h1v1h-1zM524.6 208.7h1v1h-1zM526.2 207.1h1v1h-1zM528 212.7h1v1h-1zM526.6 207.8h1v1h-1zM525.5 209.3h1v1h-1zM528.5 210.7h1v1h-1zM518.2 206.8h1v1h-1zM522.1 208.1h1v1h-1zM524.6 205.4h1v1h-1zM527.8 211h1v1h-1zM533 205.4h1v1h-1zM525.9 209.3h1v1h-1zM523.5 209.8h1v1h-1z" fill="#4bb4e2" fill-opacity="0.8"/><path d="M527.9 206.2h1v1h-1zM514.4 206.3h1v1h-1zM531.5 205.2h1v1h-1zM531.1 207.2h1v1h-1zM525.5 205.9h1v1h-1zM512.1 209h1v1h-1zM536.1 204.3h1v1h-1zM525.2 204.3h1v1h-1zM534.6 206.7h1v1h-1zM528.9 207.2h1v1h-1zM537.4 206.8h1v1h-1zM518.4 211.4h1v1h-1zM526.5 204.4h1v1h-1zM531.2 208.6h1v1h-1zM522 208.7h1v1h-1zM518.4 204.8h1v1h-1zM531.5 207.7h1v1h-1zM529 209.1h1v1h-1zM533.3 209.3h1v1h-1zM527.9 209.9h1v1h-1zM532.4 207.5h1v1h-1z" fill="#62c0e6" fill-opacity="0.8"/><path d="M523 206.7h1v1h-1zM524.5 203.7h1v1h-1zM517.3 208.8h1v1h-1zM538.6 207.1h1v1h-1zM522.3 206.7h1v1h-1zM525.9 207.6h1v1h-1zM528.4 204.6h1v1h-1zM518.5 203.8h1v1h-1zM528.3 207h1v1h-1zM521.3 209.2h1v1h-1zM530.9 208.1h1v1h-1zM532.4 209.4h1v1h-1z" fill="#3a9fd6" fill-opacity="0.8"/><path d="M527.4 203.7h1v1h-1zM525.7 206.4h1v1h-1zM527.5 208.4h1v1h-1zM525.4 208.6h1v1h-1zM518.4 206.3h1v1h-1zM528.7 205.9h1v1h-1zM519.9 210h1v1h-1zM526.3 209h1v1h-1zM524.4 206.5h1v1h-1zM534.8 208.4h1v1h-1zM521.3 206.2h1v1h-1zM519.3 204.5h1v1h-1zM519.4 205.5h1v1h-1zM524.2 210.5h1v1h-1z" fill="#7fcbe8" fill-opacity="0.8"/><path d="M515.9 201.7h1v1h-1zM523.5 210.2h1v1h-1zM526.2 211.7h1v1h-1zM513.7 207.2h1v1h-1zM533.4 208.9h1v1h-1zM520.5 205.5h1v1h-1zM524.6 208h1v1h-1zM510.5 206.6h1v1h-1zM532.1 206.9h1v1h-1zM533.4 208.6h1v1h-1zM526.6 206h1v1h-1zM524.1 205.4h1v1h-1zM537.9 207.5h1v1h-1zM526.3 206.3h1v1h-1zM521.8 206.7h1v1h-1zM526.1 206.4h1v1h-1zM522.7 206.6h1v1h-1zM526.7 204.7h1v1h-1zM523.4 211.5h1v1h-1zM525.8 210.8h1v1h-1zM528.6 207h1v1h-1zM526.1 208.5h1v1h-1z" fill="#4aa6d4" fill-opacity="0.8"/><path d="M517.2 207.6h1v1h-1zM521.4 204.2h1v1h-1zM520.2 203.1h1v1h-1zM528.6 204.4h1v1h-1zM529.4 206.9h1v1h-1zM529.1 207.4h1v1h-1zM529.6 206h1v1h-1zM526.3 205.5h1v1h-1zM528.6 208.5h1v1h-1zM527.8 205.6h1v1h-1zM523.9 204.8h1v1h-1zM527 211.4h1v1h-1zM512 207.3h1v1h-1zM529.3 209.3h1v1h-1zM520.5 208.8h1v1h-1zM528.6 209.4h1v1h-1zM524.7 205.4h1v1h-1zM529 206.5h1v1h-1zM529.6 209.1h1v1h-1zM540.4 206.8h1v1h-1zM518 209.7h1v1h-1zM526.3 207.7h1v1h-1zM521.1 209.4h1v1h-1zM528.8 206.8h1v1h-1zM521.1 206.6h1v1h-1zM516.3 207.3h1v1h-1zM529.6 206.7h1v1h-1z" fill="#5cbcd6" fill-opacity="0.8"/><path d="M523.3 211.6h1v1h-1zM530.9 203.8h1v1h-1zM524 211.8h1v1h-1zM532.5 208h1v1h-1zM526.8 207.4h1v1h-1zM531.5 207h1v1h-1zM524.1 208.6h1v1h-1zM522.7 204h1v1h-1zM530.2 206.5h1v1h-1zM530.9 206.4h1v1h-1zM526.3 208h1v1h-1zM524.2 203.8h1v1h-1zM535.1 208.4h1v1h-1zM530 208.9h1v1h-1zM527.3 207.5h1v1h-1zM536.1 212.8h1v1h-1zM529.4 207.9h1v1h-1zM520.2 207.3h1v1h-1zM527.4 202.3h1v1h-1zM526.9 204.8h1v1h-1zM528.5 204.8h1v1h-1zM518 205.5h1v1h-1z" fill="#8fb4c4" fill-opacity="0.8"/>
<path d="M537.5 180.4h0.9v0.9h-0.9zM541.7 178.5h0.9v0.9h-0.9zM537.3 189.9h0.9v0.9h-0.9zM538.5 182.3h0.9v0.9h-0.9zM541.3 208.1h0.9v0.9h-0.9zM536.5 183.6h0.9v0.9h-0.9zM537.7 191.1h0.9v0.9h-0.9zM533.8 194.9h0.9v0.9h-0.9zM534.3 179.6h0.9v0.9h-0.9zM536.6 178.1h0.9v0.9h-0.9z" fill="#c9a27a" fill-opacity="0.45"/><path d="M537.4 164h0.9v0.9h-0.9zM534.8 181.3h0.9v0.9h-0.9zM538.8 153.3h0.9v0.9h-0.9zM538.5 211.6h0.9v0.9h-0.9zM537.8 184.2h0.9v0.9h-0.9zM536.9 195.7h0.9v0.9h-0.9zM538.6 179.1h0.9v0.9h-0.9zM536.9 180.7h0.9v0.9h-0.9zM533.3 200.9h0.9v0.9h-0.9zM536.5 182.8h0.9v0.9h-0.9z" fill="#b9b2a0" fill-opacity="0.45"/><path d="M535.4 163.3h0.9v0.9h-0.9zM534.8 176.6h0.9v0.9h-0.9zM535.3 177.3h0.9v0.9h-0.9zM539.1 179.1h0.9v0.9h-0.9zM534.5 183.7h0.9v0.9h-0.9zM540.3 192.2h0.9v0.9h-0.9zM534.8 176.1h0.9v0.9h-0.9zM535 187.5h0.9v0.9h-0.9zM537.8 193.3h0.9v0.9h-0.9zM535.2 186.5h0.9v0.9h-0.9zM532.5 182.5h0.9v0.9h-0.9zM536.2 152.8h0.9v0.9h-0.9zM537 191.2h0.9v0.9h-0.9z" fill="#d8a060" fill-opacity="0.45"/><path d="M537.1 192h0.9v0.9h-0.9zM538 168h0.9v0.9h-0.9zM537.2 192.9h0.9v0.9h-0.9zM537.7 169.5h0.9v0.9h-0.9zM543 163h0.9v0.9h-0.9zM538.1 172.4h0.9v0.9h-0.9zM537.7 166.4h0.9v0.9h-0.9zM536.9 179.8h0.9v0.9h-0.9zM535.7 185.5h0.9v0.9h-0.9zM537.5 192.3h0.9v0.9h-0.9zM532.6 163.9h0.9v0.9h-0.9zM536.7 187.3h0.9v0.9h-0.9z" fill="#a8b8c0" fill-opacity="0.45"/>
<path d="M584.3 194.5h0.9v0.9h-0.9zM535.8 184.9h0.9v0.9h-0.9zM544.5 182.6h0.9v0.9h-0.9zM573.8 173.9h0.9v0.9h-0.9zM542.1 184.9h0.9v0.9h-0.9zM535.5 181.9h0.9v0.9h-0.9zM526.7 186.3h0.9v0.9h-0.9z" fill="#c9a27a" fill-opacity="0.45"/><path d="M533.3 188.5h0.9v0.9h-0.9zM531 185.3h0.9v0.9h-0.9zM581 192.6h0.9v0.9h-0.9zM586.9 203.4h0.9v0.9h-0.9zM525.9 180.1h0.9v0.9h-0.9zM586 208.1h0.9v0.9h-0.9z" fill="#b9b2a0" fill-opacity="0.45"/><path d="M540.5 175.7h0.9v0.9h-0.9zM539 185.1h0.9v0.9h-0.9zM586.2 187.6h0.9v0.9h-0.9zM546.4 181.5h0.9v0.9h-0.9zM589.2 182.8h0.9v0.9h-0.9zM558.1 189.4h0.9v0.9h-0.9zM542.7 208.2h0.9v0.9h-0.9z" fill="#d8a060" fill-opacity="0.45"/><path d="M533.9 171.2h0.9v0.9h-0.9zM538.7 206.1h0.9v0.9h-0.9zM551.5 208.6h0.9v0.9h-0.9zM569.3 189.3h0.9v0.9h-0.9zM563.6 191.6h0.9v0.9h-0.9z" fill="#a8b8c0" fill-opacity="0.45"/>
<path d="M569.6 198.4h0.9v0.9h-0.9zM571.5 198.8h0.9v0.9h-0.9zM571.2 189.8h0.9v0.9h-0.9zM572.1 195.2h0.9v0.9h-0.9zM572.6 199.8h0.9v0.9h-0.9zM580 188.3h0.9v0.9h-0.9zM564.6 186.3h0.9v0.9h-0.9zM570.2 193.5h0.9v0.9h-0.9zM561.5 202.7h0.9v0.9h-0.9zM573.2 190h0.9v0.9h-0.9zM567.6 191.9h0.9v0.9h-0.9zM572.2 186.1h0.9v0.9h-0.9zM575.2 204.4h0.9v0.9h-0.9zM573.4 196.9h0.9v0.9h-0.9zM568.3 190.4h0.9v0.9h-0.9zM572.8 196.9h0.9v0.9h-0.9zM567.5 199.5h0.9v0.9h-0.9zM581.1 195.9h0.9v0.9h-0.9zM561.3 195.5h0.9v0.9h-0.9zM566.3 204.5h0.9v0.9h-0.9zM576.9 196.2h0.9v0.9h-0.9zM564.5 192.6h0.9v0.9h-0.9zM572.7 195.2h0.9v0.9h-0.9zM567.9 198.2h0.9v0.9h-0.9zM575.9 194.1h0.9v0.9h-0.9zM561.3 189h0.9v0.9h-0.9zM571.1 196.5h0.9v0.9h-0.9zM569.6 193.9h0.9v0.9h-0.9zM570.2 200.2h0.9v0.9h-0.9zM572 195.7h0.9v0.9h-0.9zM565.4 195.2h0.9v0.9h-0.9zM570.3 190.2h0.9v0.9h-0.9zM564.6 197.4h0.9v0.9h-0.9zM578.7 192.2h0.9v0.9h-0.9zM579.3 190.1h0.9v0.9h-0.9zM566.9 189.9h0.9v0.9h-0.9zM572.6 202.9h0.9v0.9h-0.9zM575.5 197.2h0.9v0.9h-0.9zM575.6 192.8h0.9v0.9h-0.9zM571.2 196.1h0.9v0.9h-0.9zM576.6 195h0.9v0.9h-0.9zM574.9 194.2h0.9v0.9h-0.9zM567.3 196.2h0.9v0.9h-0.9zM569.6 202.2h0.9v0.9h-0.9zM560.5 200.4h0.9v0.9h-0.9zM583.6 186.4h0.9v0.9h-0.9zM566.1 198.3h0.9v0.9h-0.9zM578.3 190.4h0.9v0.9h-0.9zM575.4 193.6h0.9v0.9h-0.9zM577.9 209.8h0.9v0.9h-0.9zM571 192.5h0.9v0.9h-0.9zM570.4 198.1h0.9v0.9h-0.9zM576.1 197.1h0.9v0.9h-0.9zM569.2 188.4h0.9v0.9h-0.9zM574 192.1h0.9v0.9h-0.9zM566.8 189.4h0.9v0.9h-0.9zM567.2 193.6h0.9v0.9h-0.9zM568.2 188.8h0.9v0.9h-0.9zM572.6 195.4h0.9v0.9h-0.9zM564.6 195.7h0.9v0.9h-0.9zM569.8 201.5h0.9v0.9h-0.9zM558 201.1h0.9v0.9h-0.9zM562.3 198.1h0.9v0.9h-0.9zM574.8 189.7h0.9v0.9h-0.9zM570.6 190.9h0.9v0.9h-0.9zM584.4 193.1h0.9v0.9h-0.9zM574.5 185.9h0.9v0.9h-0.9zM569 203h0.9v0.9h-0.9zM570.3 194.5h0.9v0.9h-0.9zM570.6 188.6h0.9v0.9h-0.9zM576.1 192.8h0.9v0.9h-0.9zM572.8 190.7h0.9v0.9h-0.9zM572.9 190.4h0.9v0.9h-0.9zM579.8 197h0.9v0.9h-0.9zM578 194.5h0.9v0.9h-0.9zM568.5 181.4h0.9v0.9h-0.9zM575.7 191.3h0.9v0.9h-0.9zM571.8 193.5h0.9v0.9h-0.9zM563.4 196.8h0.9v0.9h-0.9zM579 199.2h0.9v0.9h-0.9z" fill="#ec9440" fill-opacity="0.5"/>
<ellipse cx="566.6" cy="206" rx="12.2" ry="8.3" transform="rotate(-12 566.6 206)" fill="#f98300"/>
<path d="M561.4 202.7h1v1h-1zM575.7 199.7h1v1h-1zM580.8 203.2h1v1h-1zM561.5 211.9h1v1h-1zM576.8 196.8h1v1h-1zM577 202.4h1v1h-1zM576.4 202.1h1v1h-1zM556.3 210.7h1v1h-1zM575 214.5h1v1h-1zM579.1 206.8h1v1h-1zM564.5 203.9h1v1h-1zM563.8 202.5h1v1h-1zM562.2 194.5h1v1h-1zM567.8 205.6h1v1h-1zM584.9 205.8h1v1h-1zM563.9 209.4h1v1h-1zM557.6 205h1v1h-1zM555.2 215.5h1v1h-1zM569.5 199.6h1v1h-1zM567.1 210.5h1v1h-1zM570.4 207.1h1v1h-1zM560.1 204.3h1v1h-1zM568.2 210.2h1v1h-1zM559.8 201.9h1v1h-1zM573.5 200h1v1h-1zM574.2 205.6h1v1h-1zM574.4 212.9h1v1h-1zM572.1 208.6h1v1h-1zM559.6 204.1h1v1h-1zM572.5 212.3h1v1h-1zM578.4 214.9h1v1h-1zM568.9 206.5h1v1h-1zM573.5 204.6h1v1h-1zM565.1 201.2h1v1h-1zM572.3 199.5h1v1h-1zM568.7 198.6h1v1h-1zM573.1 199.6h1v1h-1zM570.8 197.3h1v1h-1zM564.8 212.2h1v1h-1zM561.2 207.5h1v1h-1zM561 195.9h1v1h-1zM569.1 207.6h1v1h-1zM559.6 210.3h1v1h-1zM560.2 202.4h1v1h-1zM566 202.8h1v1h-1zM580.7 195.4h1v1h-1zM572.6 209.6h1v1h-1zM551.3 200.7h1v1h-1zM570 202.9h1v1h-1zM570.4 210.8h1v1h-1zM563 201.5h1v1h-1zM548.1 210.9h1v1h-1zM560.6 208.8h1v1h-1zM566.8 199.2h1v1h-1zM579.5 208.6h1v1h-1zM571.2 199.2h1v1h-1zM563.3 204h1v1h-1zM562.6 201.3h1v1h-1zM569.8 206.4h1v1h-1zM568.6 203.1h1v1h-1zM575.6 205h1v1h-1zM547.2 207h1v1h-1zM567.2 210.6h1v1h-1zM564.3 205.3h1v1h-1zM562.7 210.1h1v1h-1zM562.9 203.8h1v1h-1zM562.1 209.7h1v1h-1zM561.3 198.9h1v1h-1zM570.2 201.8h1v1h-1zM569.4 207.2h1v1h-1zM575.9 209.2h1v1h-1zM562.5 206.1h1v1h-1zM559.4 215.8h1v1h-1zM571 211.9h1v1h-1zM562.4 196.8h1v1h-1zM577.2 204.2h1v1h-1zM567.6 206.1h1v1h-1zM571.5 207.6h1v1h-1zM556.8 213.4h1v1h-1zM562.5 204.6h1v1h-1zM579.3 207.8h1v1h-1zM562.4 197.8h1v1h-1zM568.2 208.3h1v1h-1zM564.8 200.3h1v1h-1zM559.9 201.3h1v1h-1zM568.9 209.5h1v1h-1zM572.9 201.1h1v1h-1zM568.8 208.3h1v1h-1zM563 206h1v1h-1zM581.3 203.9h1v1h-1zM572.2 202.7h1v1h-1zM565.2 197.9h1v1h-1zM567.6 211.6h1v1h-1zM582.2 208.6h1v1h-1zM571.4 205.2h1v1h-1zM562.3 206.1h1v1h-1zM570 201.4h1v1h-1zM572 200h1v1h-1zM553.4 203.8h1v1h-1zM553.8 202h1v1h-1zM574.2 203.4h1v1h-1zM569.3 211.1h1v1h-1zM574.7 201.8h1v1h-1zM576.1 205.9h1v1h-1zM567.1 208.1h1v1h-1zM556.1 204.4h1v1h-1zM566.5 209h1v1h-1zM563.9 205.9h1v1h-1zM574.6 211.2h1v1h-1zM573.1 210.8h1v1h-1zM563.5 205.1h1v1h-1zM568.5 204.1h1v1h-1zM564.8 214.5h1v1h-1zM564.3 201.8h1v1h-1zM571.8 213.9h1v1h-1zM568.4 211.7h1v1h-1zM563.1 204.3h1v1h-1zM561.7 206.3h1v1h-1zM578 197.9h1v1h-1zM576.8 198.9h1v1h-1zM565.8 210.3h1v1h-1zM571.2 206.4h1v1h-1zM555.7 210.1h1v1h-1zM562.2 219.5h1v1h-1zM565.3 207.2h1v1h-1zM558.3 205.4h1v1h-1zM558.7 212.5h1v1h-1zM565.4 209h1v1h-1zM561.4 204.6h1v1h-1zM574.5 199.6h1v1h-1zM554.7 210.5h1v1h-1zM558.3 205.6h1v1h-1zM572 200.8h1v1h-1zM571.9 201.5h1v1h-1zM578.1 210.1h1v1h-1zM563.2 205.7h1v1h-1zM561.1 208.1h1v1h-1zM573 197.5h1v1h-1zM571.6 198.4h1v1h-1zM558.9 198.9h1v1h-1zM581.1 203.2h1v1h-1zM567.6 202.5h1v1h-1zM571.8 194.6h1v1h-1zM569 216.3h1v1h-1zM564 206.6h1v1h-1zM570.4 201.2h1v1h-1zM567.7 210.5h1v1h-1zM568.3 207.5h1v1h-1zM564.5 208h1v1h-1zM568.4 212.8h1v1h-1zM571.3 203.8h1v1h-1zM550.6 212.9h1v1h-1zM570.9 200.6h1v1h-1zM551.8 203.5h1v1h-1zM571.9 199.7h1v1h-1zM563.7 207.7h1v1h-1zM575 204.1h1v1h-1zM565.4 203.6h1v1h-1zM578.8 208.6h1v1h-1zM564.6 199.6h1v1h-1zM561.8 209.9h1v1h-1zM562.6 211.2h1v1h-1zM569.4 206.8h1v1h-1zM571.6 207.4h1v1h-1zM560.4 205.7h1v1h-1zM581.4 196.9h1v1h-1zM564.4 211.7h1v1h-1zM564.7 202.4h1v1h-1zM558.1 210.4h1v1h-1zM575 211.1h1v1h-1zM568 210.8h1v1h-1zM559.7 208.3h1v1h-1zM562.1 207.8h1v1h-1zM572.8 209.9h1v1h-1zM561.1 213.4h1v1h-1zM562.3 201.9h1v1h-1zM564 199.4h1v1h-1zM566.9 207.4h1v1h-1zM565.8 208.8h1v1h-1zM564.4 206.5h1v1h-1zM556.8 208.3h1v1h-1zM560.3 205.1h1v1h-1zM566.1 207h1v1h-1zM553.8 201.1h1v1h-1zM565 208.7h1v1h-1zM570 209.7h1v1h-1zM576 206.4h1v1h-1zM565.4 201.2h1v1h-1zM559.7 205.2h1v1h-1zM568.7 206.6h1v1h-1zM566.5 205.3h1v1h-1zM571.1 206.1h1v1h-1zM568.9 207h1v1h-1zM561.8 202h1v1h-1zM570.4 207.2h1v1h-1zM564.7 204.4h1v1h-1zM581.4 199.1h1v1h-1zM565.4 207.6h1v1h-1zM558.8 208.2h1v1h-1zM579.8 207.8h1v1h-1zM571.5 207.9h1v1h-1zM568.3 210.3h1v1h-1zM565.1 204.2h1v1h-1zM568.2 210.1h1v1h-1zM569.5 208.7h1v1h-1zM553.9 214.5h1v1h-1zM584 208.9h1v1h-1zM563.6 202.5h1v1h-1zM567.5 201h1v1h-1zM571 202.5h1v1h-1zM574.5 211h1v1h-1zM553 210.3h1v1h-1zM560.4 200.4h1v1h-1zM562.2 205.9h1v1h-1zM572.2 197.4h1v1h-1zM575.8 213.9h1v1h-1zM571.2 207.7h1v1h-1zM565.3 200.5h1v1h-1zM570.6 207h1v1h-1zM574.2 217h1v1h-1zM572 206.9h1v1h-1zM576 197.4h1v1h-1zM558.4 205.9h1v1h-1zM562.8 210.2h1v1h-1zM566.2 214.6h1v1h-1zM577.8 207.4h1v1h-1zM564.6 209.5h1v1h-1zM571.1 199.8h1v1h-1zM569.7 208.8h1v1h-1zM569.7 213.1h1v1h-1zM574.1 200.4h1v1h-1zM566.6 201.9h1v1h-1zM569.7 201.1h1v1h-1zM573.3 206.5h1v1h-1zM573.1 203.9h1v1h-1zM558.4 216.4h1v1h-1zM566.8 212.7h1v1h-1zM570.2 208.5h1v1h-1zM579.5 204.9h1v1h-1zM574.7 197h1v1h-1zM572.3 203.6h1v1h-1zM565.7 206.2h1v1h-1zM570.6 213.3h1v1h-1zM554 208.9h1v1h-1zM562.9 212.5h1v1h-1zM564.2 208.8h1v1h-1zM564.5 209.7h1v1h-1zM573.2 202.7h1v1h-1zM565.5 199.3h1v1h-1zM569.5 209.6h1v1h-1zM563.9 212.1h1v1h-1zM550.6 200.3h1v1h-1zM556.6 205.7h1v1h-1zM566.6 205.6h1v1h-1zM566.9 209.5h1v1h-1zM562.1 200.8h1v1h-1zM560.2 217.7h1v1h-1zM550.3 208.6h1v1h-1zM577.1 206.1h1v1h-1zM560.9 207.2h1v1h-1zM573.7 210.4h1v1h-1zM561.2 210.9h1v1h-1zM569.4 210.8h1v1h-1zM575.8 202.4h1v1h-1zM557.1 210h1v1h-1zM579.4 206.6h1v1h-1zM570.6 216.9h1v1h-1zM560.4 211.8h1v1h-1zM562.7 207.1h1v1h-1zM568.7 213h1v1h-1zM559.7 204.8h1v1h-1zM556.2 210.6h1v1h-1zM563.9 208.6h1v1h-1zM558.9 205.9h1v1h-1zM573.5 203.7h1v1h-1zM571.4 207.6h1v1h-1zM562.6 199.2h1v1h-1zM573.5 205.4h1v1h-1zM571.3 195.1h1v1h-1zM553.1 198.3h1v1h-1zM561.6 212.2h1v1h-1zM570.4 205h1v1h-1zM568.3 209.4h1v1h-1zM564.9 208.3h1v1h-1zM565.4 195.5h1v1h-1zM565.3 212.9h1v1h-1zM563.7 205.9h1v1h-1zM562 204.6h1v1h-1zM574 203.1h1v1h-1zM556.5 192.9h1v1h-1zM560.7 197.6h1v1h-1zM554.9 212.4h1v1h-1zM569.5 196h1v1h-1zM572.9 206.9h1v1h-1zM562 210.6h1v1h-1zM554.3 202.7h1v1h-1zM555.6 202.9h1v1h-1zM571.3 198.5h1v1h-1zM557.8 203.2h1v1h-1zM567.6 204.1h1v1h-1zM571.8 201.4h1v1h-1zM557.3 205.5h1v1h-1zM565.9 201.6h1v1h-1zM570.3 214.1h1v1h-1zM562.6 207h1v1h-1zM575.1 201h1v1h-1zM559.6 202.1h1v1h-1zM569.7 207.8h1v1h-1zM565.5 206.4h1v1h-1zM576.1 208.2h1v1h-1zM556.8 207.9h1v1h-1zM567.9 209.2h1v1h-1zM564.2 203.2h1v1h-1zM561.5 198.2h1v1h-1zM565.6 203.1h1v1h-1zM568.5 200.4h1v1h-1zM562.4 201.9h1v1h-1zM559.8 210.7h1v1h-1zM563.6 208.7h1v1h-1zM558.8 208h1v1h-1zM554.3 206.1h1v1h-1zM563.4 209.3h1v1h-1zM567.3 204.8h1v1h-1zM572.2 205.5h1v1h-1zM570.7 208.7h1v1h-1zM565.5 204.6h1v1h-1zM568.1 203.4h1v1h-1zM570 210.5h1v1h-1zM571.7 202.8h1v1h-1zM557.4 207.5h1v1h-1zM566.5 211.2h1v1h-1zM563.4 205.4h1v1h-1zM570.8 202.5h1v1h-1zM566.9 214.1h1v1h-1zM577 206.6h1v1h-1zM567.1 200.9h1v1h-1zM570.1 205.3h1v1h-1zM567.2 203.1h1v1h-1zM566 205h1v1h-1zM569.8 212.1h1v1h-1zM567 197.6h1v1h-1zM558 199.8h1v1h-1zM561.4 209.6h1v1h-1zM568.4 202.5h1v1h-1zM567.3 201.9h1v1h-1zM555.1 201.3h1v1h-1zM561.8 213.7h1v1h-1zM558.3 213.6h1v1h-1zM575.1 203.1h1v1h-1zM565.3 203h1v1h-1z" fill="#f98300" fill-opacity="0.9"/>
<rect x="553.2" y="184.4" width="36" height="34" fill="none" stroke="#dc22dc" stroke-width="1.7"/>
<path d="M703.70 56.80H869.50V221.40" stroke="#cfcfcf" stroke-width="1.2" fill="none"/>
<path d="M703.70 56.80V221.40H869.50" stroke="#a9a9a9" stroke-width="1" fill="none"/>
<path d="M703.70 221.40v4.2M712.02 221.40v2M716.88 221.40v2M720.34 221.40v2M723.01 221.40v2M725.20 221.40v2M727.05 221.40v2M728.66 221.40v2M730.07 221.40v2M731.33 221.40v4.2M739.65 221.40v2M744.52 221.40v2M747.97 221.40v2M750.65 221.40v2M752.84 221.40v2M754.69 221.40v2M756.29 221.40v2M757.70 221.40v2M758.97 221.40v4.2M767.29 221.40v2M772.15 221.40v2M775.60 221.40v2M778.28 221.40v2M780.47 221.40v2M782.32 221.40v2M783.92 221.40v2M785.34 221.40v2M786.60 221.40v4.2M794.92 221.40v2M799.78 221.40v2M803.24 221.40v2M805.91 221.40v2M808.10 221.40v2M809.95 221.40v2M811.56 221.40v2M812.97 221.40v2M814.23 221.40v4.2M822.55 221.40v2M827.42 221.40v2M830.87 221.40v2M833.55 221.40v2M835.74 221.40v2M837.59 221.40v2M839.19 221.40v2M840.60 221.40v2M841.87 221.40v4.2M850.19 221.40v2M855.05 221.40v2M858.50 221.40v2M861.18 221.40v2M863.37 221.40v2M865.22 221.40v2M866.82 221.40v2M868.24 221.40v2M869.50 221.40v4.2" stroke="#9a9a9a" stroke-width="0.9" fill="none"/>
<text x="704.20" y="235.30" text-anchor="end" font-size="7.7" class="tl">10</text>
<text x="704.60" y="230.30" font-size="4.0" class="te">0</text>
<text x="731.83" y="235.30" text-anchor="end" font-size="7.7" class="tl">10</text>
<text x="732.23" y="230.30" font-size="4.0" class="te">1</text>
<text x="759.47" y="235.30" text-anchor="end" font-size="7.7" class="tl">10</text>
<text x="759.87" y="230.30" font-size="4.0" class="te">2</text>
<text x="787.10" y="235.30" text-anchor="end" font-size="7.7" class="tl">10</text>
<text x="787.50" y="230.30" font-size="4.0" class="te">3</text>
<text x="814.73" y="235.30" text-anchor="end" font-size="7.7" class="tl">10</text>
<text x="815.13" y="230.30" font-size="4.0" class="te">4</text>
<text x="842.37" y="235.30" text-anchor="end" font-size="7.7" class="tl">10</text>
<text x="842.77" y="230.30" font-size="4.0" class="te">5</text>
<text x="870.00" y="235.30" text-anchor="end" font-size="7.7" class="tl">10</text>
<text x="870.40" y="230.30" font-size="4.0" class="te">6</text>
<path d="M699.20 221.40h4.5M701.50 213.14h2.2M701.50 208.31h2.2M701.50 204.88h2.2M701.50 202.22h2.2M701.50 200.05h2.2M701.50 198.22h2.2M701.50 196.63h2.2M701.50 195.22h2.2M699.20 193.97h4.5M701.50 185.71h2.2M701.50 180.88h2.2M701.50 177.45h2.2M701.50 174.79h2.2M701.50 172.62h2.2M701.50 170.78h2.2M701.50 169.19h2.2M701.50 167.79h2.2M699.20 166.53h4.5M701.50 158.28h2.2M701.50 153.44h2.2M701.50 150.02h2.2M701.50 147.36h2.2M701.50 145.19h2.2M701.50 143.35h2.2M701.50 141.76h2.2M701.50 140.36h2.2M699.20 139.10h4.5M701.50 130.84h2.2M701.50 126.01h2.2M701.50 122.58h2.2M701.50 119.92h2.2M701.50 117.75h2.2M701.50 115.92h2.2M701.50 114.33h2.2M701.50 112.92h2.2M699.20 111.67h4.5M701.50 103.41h2.2M701.50 98.58h2.2M701.50 95.15h2.2M701.50 92.49h2.2M701.50 90.32h2.2M701.50 88.48h2.2M701.50 86.89h2.2M701.50 85.49h2.2M699.20 84.23h4.5M701.50 75.98h2.2M701.50 71.14h2.2M701.50 67.72h2.2M701.50 65.06h2.2M701.50 62.89h2.2M701.50 61.05h2.2M701.50 59.46h2.2M701.50 58.06h2.2M699.20 56.80h4.5" stroke="#9a9a9a" stroke-width="0.9" fill="none"/>
<text x="695.80" y="220.90" text-anchor="end" font-size="7.6" class="tl">10</text>
<text x="696.20" y="218.00" font-size="3.9" class="te">0</text>
<text x="695.80" y="193.47" text-anchor="end" font-size="7.6" class="tl">10</text>
<text x="696.20" y="190.57" font-size="3.9" class="te">1</text>
<text x="695.80" y="166.03" text-anchor="end" font-size="7.6" class="tl">10</text>
<text x="696.20" y="163.13" font-size="3.9" class="te">2</text>
<text x="695.80" y="138.60" text-anchor="end" font-size="7.6" class="tl">10</text>
<text x="696.20" y="135.70" font-size="3.9" class="te">3</text>
<text x="695.80" y="111.17" text-anchor="end" font-size="7.6" class="tl">10</text>
<text x="696.20" y="108.27" font-size="3.9" class="te">4</text>
<text x="695.80" y="83.73" text-anchor="end" font-size="7.6" class="tl">10</text>
<text x="696.20" y="80.83" font-size="3.9" class="te">5</text>
<text x="695.80" y="56.30" text-anchor="end" font-size="7.6" class="tl">10</text>
<text x="696.20" y="53.40" font-size="3.9" class="te">6</text>
<path d="M704.4 138.1h1v1h-1zM703.8 139.5h1v1h-1zM705.3 140h1v1h-1zM704.9 149.6h1v1h-1zM705.4 142.6h1v1h-1zM704.3 148.9h1v1h-1zM704.2 135.8h1v1h-1zM703.9 138.2h1v1h-1zM704.3 151.2h1v1h-1zM704.3 135.9h1v1h-1z" fill="#7fc0d8" fill-opacity="0.7"/>
<path d="M771.8 148.6h1v1h-1zM789.4 146.1h1v1h-1zM787.2 137.4h1v1h-1zM794.9 139.6h1v1h-1zM774.5 148.2h1v1h-1zM775.1 137.3h1v1h-1zM788.6 135.1h1v1h-1zM776.6 146.7h1v1h-1zM798.1 127.6h1v1h-1zM786.7 154h1v1h-1zM775.4 152.8h1v1h-1zM769.3 147.9h1v1h-1zM765 140.9h1v1h-1zM789.3 137.4h1v1h-1zM785.9 137.7h1v1h-1zM783.2 149.2h1v1h-1zM784.7 130.6h1v1h-1zM770.2 144h1v1h-1zM783.2 130.8h1v1h-1zM771.3 156.2h1v1h-1zM772.6 144.4h1v1h-1zM786.7 146.7h1v1h-1zM780 135.7h1v1h-1zM770 147h1v1h-1zM796.5 138.7h1v1h-1zM802.3 134.9h1v1h-1zM779.2 155.4h1v1h-1zM796.5 137.3h1v1h-1zM793.6 140.7h1v1h-1zM781.8 145.3h1v1h-1zM789.7 151.3h1v1h-1z" fill="#4bb4e2" fill-opacity="0.55"/><path d="M784.1 133.2h1v1h-1zM777.6 128h1v1h-1zM777.7 135.7h1v1h-1zM787.7 137.5h1v1h-1zM791.7 132.8h1v1h-1zM792.6 136.6h1v1h-1zM788.5 131.1h1v1h-1zM774.3 139.2h1v1h-1zM778.4 150.9h1v1h-1zM783.4 141.9h1v1h-1zM804.3 127.9h1v1h-1zM796.8 128.5h1v1h-1zM785.8 130.4h1v1h-1zM782.9 140.5h1v1h-1zM763.9 145.9h1v1h-1zM800.9 138.5h1v1h-1zM776.9 149.7h1v1h-1zM788.4 156.9h1v1h-1zM767.4 144.7h1v1h-1zM790.7 134h1v1h-1zM778.1 150.3h1v1h-1zM776.7 140.1h1v1h-1zM792.3 131.5h1v1h-1zM803.6 135.6h1v1h-1zM779.2 138.9h1v1h-1zM791.8 144.2h1v1h-1zM791.5 141.3h1v1h-1zM807.6 137.1h1v1h-1zM772.5 143h1v1h-1zM786.6 141.7h1v1h-1zM756 150.6h1v1h-1zM775.4 146.8h1v1h-1zM775 144.7h1v1h-1zM793.7 140.6h1v1h-1zM774.9 144.2h1v1h-1zM765.3 155.1h1v1h-1z" fill="#62c0e6" fill-opacity="0.55"/><path d="M777.6 145.5h1v1h-1zM783.4 125h1v1h-1zM780.8 146.7h1v1h-1zM795.7 144.5h1v1h-1zM777.9 131.9h1v1h-1zM764.6 149.1h1v1h-1zM788 152.5h1v1h-1zM786 140.2h1v1h-1zM784.6 142.8h1v1h-1zM780.3 127h1v1h-1zM785.8 151.6h1v1h-1zM787.9 132.2h1v1h-1zM790.4 132.8h1v1h-1zM802 143.6h1v1h-1zM793 153.4h1v1h-1zM783.9 134.3h1v1h-1zM784.6 152.1h1v1h-1zM790.9 145.9h1v1h-1zM798.6 128.2h1v1h-1zM794.7 140h1v1h-1zM798.3 142h1v1h-1zM789.9 136.5h1v1h-1zM798.9 133.9h1v1h-1z" fill="#3a9fd6" fill-opacity="0.55"/><path d="M794.2 143.3h1v1h-1zM784.7 144h1v1h-1zM788.2 140.6h1v1h-1zM780.9 146.1h1v1h-1zM770.7 148.2h1v1h-1zM783.9 120.8h1v1h-1zM780.7 144.1h1v1h-1zM805.4 144.5h1v1h-1zM778.3 142.2h1v1h-1zM797.4 129.5h1v1h-1zM775.1 141.2h1v1h-1zM793.2 132.6h1v1h-1zM780.9 137.7h1v1h-1zM772.1 146.8h1v1h-1zM776.9 153.2h1v1h-1zM786.7 140.5h1v1h-1zM768.7 149.7h1v1h-1zM789 134.9h1v1h-1zM774.9 152.3h1v1h-1zM784.9 133.1h1v1h-1zM774.7 152.8h1v1h-1zM776.8 133.3h1v1h-1zM776.9 152.5h1v1h-1zM779.4 140.9h1v1h-1zM773.2 157.7h1v1h-1zM787 140.2h1v1h-1zM758.9 153h1v1h-1zM780.2 135.7h1v1h-1zM794.2 134.3h1v1h-1zM769.9 149.3h1v1h-1zM789.7 133.5h1v1h-1zM788.1 145.4h1v1h-1z" fill="#7fcbe8" fill-opacity="0.55"/><path d="M786 134.8h1v1h-1zM790.4 137.7h1v1h-1zM781 146h1v1h-1zM787.1 156.4h1v1h-1zM772.8 142.9h1v1h-1zM783.6 127.7h1v1h-1zM777.6 134.1h1v1h-1zM771.1 135.4h1v1h-1zM770.1 146.1h1v1h-1zM789.2 131.6h1v1h-1zM781.8 155.6h1v1h-1zM779.9 132.2h1v1h-1zM775.2 142.8h1v1h-1zM780.9 148.2h1v1h-1zM785.4 137.1h1v1h-1zM789.4 152.1h1v1h-1zM756.3 141.3h1v1h-1zM770.6 136.8h1v1h-1zM786.5 128.8h1v1h-1zM788 139.1h1v1h-1zM786.5 156.5h1v1h-1zM790.9 140.6h1v1h-1zM769.3 120.4h1v1h-1zM795.9 139.4h1v1h-1zM809.3 122.5h1v1h-1z" fill="#4aa6d4" fill-opacity="0.55"/><path d="M781.1 153h1v1h-1zM772.2 151.6h1v1h-1zM788.6 142.7h1v1h-1zM800.5 145.4h1v1h-1zM792.4 150.7h1v1h-1zM772.8 148.2h1v1h-1zM784.2 140h1v1h-1zM792.6 136.7h1v1h-1zM775.9 147.8h1v1h-1zM783.4 127.4h1v1h-1zM774.2 132.5h1v1h-1zM796.4 137.1h1v1h-1zM789.4 138.1h1v1h-1zM783.3 143.2h1v1h-1zM783.5 146.2h1v1h-1zM792.5 142.4h1v1h-1zM783 130.7h1v1h-1zM786.9 128.6h1v1h-1zM807.8 159.1h1v1h-1zM788.9 142.1h1v1h-1zM778.5 146.4h1v1h-1zM791.7 140.6h1v1h-1zM772.8 129.2h1v1h-1zM794.7 116.8h1v1h-1zM779.6 154.6h1v1h-1zM794.1 128.3h1v1h-1zM782.8 126.9h1v1h-1zM778.6 141.5h1v1h-1zM781.7 143.9h1v1h-1zM781.8 151.2h1v1h-1zM779 142.6h1v1h-1z" fill="#5cbcd6" fill-opacity="0.55"/><path d="M769.2 148.4h1v1h-1zM788.2 150.1h1v1h-1zM799.3 125.7h1v1h-1zM788.8 153h1v1h-1zM791.6 136h1v1h-1zM770.7 144.5h1v1h-1zM784.1 142.2h1v1h-1zM767.7 159.8h1v1h-1zM775.2 137.2h1v1h-1zM781 144.6h1v1h-1zM764.8 140.4h1v1h-1zM770.5 137.7h1v1h-1zM775.2 149.9h1v1h-1zM784.6 148.5h1v1h-1zM788.2 135.1h1v1h-1zM789.3 136h1v1h-1zM802.9 148h1v1h-1zM786.7 133.9h1v1h-1zM784.3 151.9h1v1h-1zM780 139.7h1v1h-1zM750.9 153.7h1v1h-1zM788.3 136.6h1v1h-1z" fill="#8fb4c4" fill-opacity="0.55"/><path d="M789.4 145.7h1v1h-1zM792.6 141.8h1v1h-1zM776.9 145.9h1v1h-1zM766.1 139.4h1v1h-1zM764 145.4h1v1h-1zM804.1 139.5h1v1h-1zM772.9 142.4h1v1h-1zM807.3 131.4h1v1h-1zM782.5 129.4h1v1h-1zM782.2 133.3h1v1h-1zM765.1 159.4h1v1h-1zM762.4 151.1h1v1h-1zM789.8 142.1h1v1h-1zM775.8 142.7h1v1h-1zM796.3 146.5h1v1h-1zM774.4 140.3h1v1h-1zM770.3 159.6h1v1h-1zM767.1 148.6h1v1h-1zM773.8 137.3h1v1h-1zM787.7 133.9h1v1h-1zM791.9 140.2h1v1h-1zM781.3 131.7h1v1h-1zM801.1 140.3h1v1h-1zM776.8 141.7h1v1h-1zM779.5 131.7h1v1h-1zM782.3 131.4h1v1h-1zM772.2 150.9h1v1h-1zM795.8 139.2h1v1h-1zM784.6 138.5h1v1h-1zM789.3 140.7h1v1h-1zM775.9 145.2h1v1h-1zM769.2 157.8h1v1h-1zM776.7 156.4h1v1h-1zM785.4 136.4h1v1h-1zM780 141.3h1v1h-1zM769.8 142.9h1v1h-1zM780.1 136.8h1v1h-1zM773.5 140.1h1v1h-1zM782.1 137.1h1v1h-1zM782.4 144.9h1v1h-1zM778.4 146.4h1v1h-1z" fill="#8fcbe6" fill-opacity="0.55"/><path d="M772.8 145.8h1v1h-1zM790.9 131.6h1v1h-1zM782.2 153.6h1v1h-1zM777.6 133.9h1v1h-1zM765.2 150.8h1v1h-1zM785.3 137.2h1v1h-1zM778.7 134.5h1v1h-1zM766.5 159.6h1v1h-1zM782.3 140.2h1v1h-1zM774.4 151.8h1v1h-1zM764.9 159.7h1v1h-1zM787.4 157.1h1v1h-1zM771 160.4h1v1h-1zM774.9 141.8h1v1h-1zM755.6 151h1v1h-1zM766.3 156.1h1v1h-1zM790 141.4h1v1h-1zM767.2 136.6h1v1h-1zM755.8 148.2h1v1h-1zM779.3 144.7h1v1h-1zM788.1 142h1v1h-1zM772.6 158.6h1v1h-1zM775 141h1v1h-1zM766.8 147.2h1v1h-1zM789.1 146.9h1v1h-1zM768.7 145.3h1v1h-1zM776.6 143.7h1v1h-1zM790 137.6h1v1h-1zM801 133.5h1v1h-1z" fill="#9ccf9a" fill-opacity="0.55"/>
<path d="M793.6 107.2h1v1h-1zM787.8 112.3h1v1h-1zM789.8 109.9h1v1h-1zM799.5 104.1h1v1h-1zM788.8 121.5h1v1h-1zM794.5 126.2h1v1h-1z" fill="#4bb4e2" fill-opacity="0.45"/><path d="M790.6 124.3h1v1h-1zM789.4 117.5h1v1h-1zM796 120.2h1v1h-1zM793.4 118.5h1v1h-1zM798.4 113h1v1h-1zM795.3 110.9h1v1h-1z" fill="#62c0e6" fill-opacity="0.45"/><path d="M796.6 124.9h1v1h-1zM800.1 114.9h1v1h-1zM789.9 116.9h1v1h-1zM793.1 111.5h1v1h-1zM794.6 118.6h1v1h-1z" fill="#3a9fd6" fill-opacity="0.45"/><path d="M795 125.4h1v1h-1zM790.5 126.4h1v1h-1zM790.1 123.2h1v1h-1zM787.6 118.6h1v1h-1z" fill="#7fcbe8" fill-opacity="0.45"/><path d="M799.4 110.7h1v1h-1zM792.6 126.8h1v1h-1zM794.9 112.2h1v1h-1zM790.8 118.6h1v1h-1zM793.4 121.1h1v1h-1zM792.4 120.3h1v1h-1zM781.2 112.4h1v1h-1z" fill="#4aa6d4" fill-opacity="0.45"/><path d="M789.7 112.5h1v1h-1zM795.4 111.8h1v1h-1zM788.3 114.5h1v1h-1zM793.2 126.3h1v1h-1zM792.5 105.4h1v1h-1z" fill="#5cbcd6" fill-opacity="0.45"/><path d="M792.7 128.9h1v1h-1zM798.6 113.8h1v1h-1zM788.8 128.4h1v1h-1zM785.1 121.7h1v1h-1zM784.9 126.1h1v1h-1zM793.6 116.2h1v1h-1zM798.9 111.4h1v1h-1z" fill="#8fb4c4" fill-opacity="0.45"/>
<path d="M836.4 152.2h1v1h-1zM831.2 140.1h1v1h-1zM826.5 144.8h1v1h-1zM825.2 131.9h1v1h-1zM821.4 169.1h1v1h-1zM823 119h1v1h-1zM820.9 133.2h1v1h-1zM824 138.9h1v1h-1zM836.8 126h1v1h-1zM826 136.4h1v1h-1zM820.6 141.2h1v1h-1zM818.2 140.8h1v1h-1zM822.7 142.6h1v1h-1zM818.9 147.1h1v1h-1zM825.8 142.3h1v1h-1zM815.9 134.4h1v1h-1zM830.9 137.3h1v1h-1zM832.6 140.3h1v1h-1zM823.8 125.9h1v1h-1zM823 143.2h1v1h-1zM813.5 126.8h1v1h-1zM820.2 146.3h1v1h-1zM825 139.5h1v1h-1zM810 131.3h1v1h-1zM831.6 142.4h1v1h-1zM826.6 131.9h1v1h-1zM826.3 136h1v1h-1zM830.8 130.5h1v1h-1zM826.6 148.8h1v1h-1zM819.5 127.3h1v1h-1zM823.1 137.4h1v1h-1zM823 145.6h1v1h-1zM826.2 125.7h1v1h-1zM824.9 143.4h1v1h-1zM821.6 132h1v1h-1z" fill="#4bb4e2" fill-opacity="0.6"/><path d="M825.6 142.6h1v1h-1zM830.1 146.3h1v1h-1zM819.3 141.3h1v1h-1zM823.1 126h1v1h-1zM821.4 135.1h1v1h-1zM833.4 135.4h1v1h-1zM820.3 133.3h1v1h-1zM823.1 136.2h1v1h-1zM823.3 137.2h1v1h-1zM830.1 148.3h1v1h-1zM819.3 144.4h1v1h-1zM831.4 127.4h1v1h-1zM816.7 131.6h1v1h-1zM827.6 124.9h1v1h-1zM812.4 115h1v1h-1zM824.8 133.2h1v1h-1zM827.8 131.1h1v1h-1zM828.8 157.7h1v1h-1zM821.7 146.1h1v1h-1zM819 129.8h1v1h-1zM830.3 141.6h1v1h-1zM822.5 128.3h1v1h-1zM827.8 132.9h1v1h-1zM816.2 137.4h1v1h-1zM824.8 155.8h1v1h-1zM823.9 127.3h1v1h-1zM826.2 133.8h1v1h-1zM827.6 136.8h1v1h-1zM827.7 122h1v1h-1zM832.4 138.4h1v1h-1zM819.6 140.3h1v1h-1zM822.8 124.7h1v1h-1zM830.8 144.6h1v1h-1zM823.3 138h1v1h-1zM821.3 132.4h1v1h-1zM826.8 127.2h1v1h-1z" fill="#62c0e6" fill-opacity="0.6"/><path d="M825.1 134.8h1v1h-1zM829.3 143.9h1v1h-1zM823.9 121.4h1v1h-1zM825.7 128.7h1v1h-1zM829.4 139.9h1v1h-1zM825.3 145.8h1v1h-1zM823 136.8h1v1h-1zM823.5 134.6h1v1h-1zM821.4 125.6h1v1h-1zM823 132.8h1v1h-1zM826.1 132.8h1v1h-1zM813.7 142.5h1v1h-1zM822.3 142.7h1v1h-1zM828.7 124.8h1v1h-1zM834.9 152.6h1v1h-1zM824.7 146h1v1h-1zM824.7 145.1h1v1h-1zM836 127h1v1h-1zM821.2 133.8h1v1h-1zM822.5 137.2h1v1h-1zM814.6 134.9h1v1h-1zM823.3 121.9h1v1h-1zM828.3 132.5h1v1h-1zM825.7 161h1v1h-1zM817 139.6h1v1h-1z" fill="#3a9fd6" fill-opacity="0.6"/><path d="M824 157h1v1h-1zM833.8 133.1h1v1h-1zM830.3 123.4h1v1h-1zM831.9 140.3h1v1h-1zM824.7 138h1v1h-1zM823.7 127.9h1v1h-1zM826 136.2h1v1h-1zM825.9 144.5h1v1h-1zM831.4 134.8h1v1h-1zM819.1 125.8h1v1h-1zM820.4 152.9h1v1h-1zM831.6 120.8h1v1h-1zM821 128.5h1v1h-1zM831.1 145.3h1v1h-1zM817.3 119.6h1v1h-1zM834.1 125.5h1v1h-1zM818.3 147.8h1v1h-1zM826.5 141.3h1v1h-1zM822.7 129.1h1v1h-1zM828.7 135.3h1v1h-1zM835.8 137.1h1v1h-1zM822.3 139.9h1v1h-1zM826.9 133.9h1v1h-1zM824.7 167.8h1v1h-1zM828.9 139.4h1v1h-1zM827.4 132.3h1v1h-1zM820 140.2h1v1h-1zM827.8 139.5h1v1h-1zM832.2 154.6h1v1h-1zM819.2 150.5h1v1h-1zM832.9 123.7h1v1h-1zM829.1 144h1v1h-1zM826.3 140.4h1v1h-1zM822.4 127h1v1h-1zM823.3 134.8h1v1h-1zM823.4 142.8h1v1h-1zM821 141.9h1v1h-1zM824.6 133.7h1v1h-1zM823.2 136.7h1v1h-1zM833.4 140.7h1v1h-1zM821 137.4h1v1h-1z" fill="#7fcbe8" fill-opacity="0.6"/><path d="M821.6 145.2h1v1h-1zM822.3 117.1h1v1h-1zM830 149.8h1v1h-1zM833.8 151.7h1v1h-1zM826.7 116.4h1v1h-1zM825.7 148.6h1v1h-1zM827.5 144.3h1v1h-1zM831.3 153.3h1v1h-1zM824.7 129.3h1v1h-1zM833.4 149.4h1v1h-1zM827.6 137.1h1v1h-1zM816 138.7h1v1h-1zM820.6 138h1v1h-1zM819.8 142.4h1v1h-1zM829.2 141.8h1v1h-1zM826.4 135.5h1v1h-1zM825.4 134.9h1v1h-1zM824.2 119.9h1v1h-1zM825.1 138.3h1v1h-1zM823.3 131.6h1v1h-1zM829.3 134.4h1v1h-1zM826.3 145.7h1v1h-1zM833.7 152.4h1v1h-1zM825.5 124.9h1v1h-1zM828.5 119.9h1v1h-1zM822.8 151.4h1v1h-1zM822.8 138.7h1v1h-1zM829.1 149.2h1v1h-1zM833.9 119.1h1v1h-1zM811.9 135.7h1v1h-1zM821.6 122.5h1v1h-1zM828.9 122.2h1v1h-1zM813.6 147h1v1h-1zM824.4 124.7h1v1h-1zM830.2 141.5h1v1h-1zM828.9 145.8h1v1h-1zM816.1 138.2h1v1h-1zM832.7 138.6h1v1h-1zM825.1 138.8h1v1h-1zM821.7 122.1h1v1h-1z" fill="#4aa6d4" fill-opacity="0.6"/><path d="M818.5 131.6h1v1h-1zM825.3 130.1h1v1h-1zM823.1 132.4h1v1h-1zM824.4 128.7h1v1h-1zM831.8 119.9h1v1h-1zM815.5 143.5h1v1h-1zM825.9 138.6h1v1h-1zM822.7 142.7h1v1h-1zM833.5 154h1v1h-1zM832.6 129.8h1v1h-1zM822.7 147.5h1v1h-1zM827.5 144.1h1v1h-1zM827.2 149.1h1v1h-1zM820.4 139.6h1v1h-1zM829.6 141.9h1v1h-1zM816.2 139.4h1v1h-1zM829.9 140.9h1v1h-1zM816 155.5h1v1h-1zM831.5 135.6h1v1h-1zM817.2 118.4h1v1h-1zM819.2 133.2h1v1h-1zM822 140.1h1v1h-1zM827.5 121.9h1v1h-1zM833.9 127.6h1v1h-1zM830.3 148.4h1v1h-1zM829.3 123.9h1v1h-1zM823.5 136.1h1v1h-1zM819 135.7h1v1h-1zM830.7 144.8h1v1h-1zM827.2 125.7h1v1h-1zM824.7 136.8h1v1h-1zM829.1 134h1v1h-1zM822.4 116.4h1v1h-1zM822.9 143.2h1v1h-1zM814.7 137.8h1v1h-1zM832.2 129.3h1v1h-1zM820.2 147.3h1v1h-1zM827.3 136.8h1v1h-1zM823 137.7h1v1h-1z" fill="#5cbcd6" fill-opacity="0.6"/><path d="M824.5 149h1v1h-1zM824.7 146.9h1v1h-1zM823.9 136.3h1v1h-1zM822.6 123.4h1v1h-1zM826.1 157.4h1v1h-1zM821.9 141.7h1v1h-1zM826.1 145.9h1v1h-1zM825.8 143.6h1v1h-1zM824.7 155.5h1v1h-1zM831.1 123.2h1v1h-1zM822.5 133.8h1v1h-1zM823.8 133.7h1v1h-1zM829.4 121.2h1v1h-1zM825.1 132.4h1v1h-1zM819.7 130.6h1v1h-1zM834.8 136.4h1v1h-1zM828.7 138.4h1v1h-1zM821.4 149.3h1v1h-1zM829.4 122.4h1v1h-1zM823.1 145.5h1v1h-1zM818.1 137.1h1v1h-1zM824.6 144.3h1v1h-1zM824.5 133.2h1v1h-1zM827.9 153.3h1v1h-1zM825 144.9h1v1h-1zM816.4 141.1h1v1h-1zM829 138.1h1v1h-1zM823.1 141.7h1v1h-1z" fill="#8fb4c4" fill-opacity="0.6"/><path d="M821.1 141.1h1v1h-1zM820.5 141.4h1v1h-1zM822.4 125.3h1v1h-1zM827.1 129.5h1v1h-1zM827.8 145.3h1v1h-1zM809.4 140.1h1v1h-1zM828.6 127.5h1v1h-1zM819.6 145.4h1v1h-1zM819 134.5h1v1h-1zM833.3 122.4h1v1h-1zM822 143.9h1v1h-1zM827.8 118.3h1v1h-1zM821.8 142.6h1v1h-1zM815.3 144.2h1v1h-1zM825.5 127.9h1v1h-1zM827.4 145.3h1v1h-1zM816.1 129.1h1v1h-1zM818.7 140.6h1v1h-1zM827.8 141.9h1v1h-1zM835.7 146.5h1v1h-1zM821.9 122.4h1v1h-1zM827 137.6h1v1h-1zM825.1 134.6h1v1h-1zM815.1 140h1v1h-1zM825.7 148.5h1v1h-1zM822.2 125.3h1v1h-1z" fill="#3b6fc0" fill-opacity="0.6"/>
<path d="M761.9 146.3h1v1h-1zM831.8 188.7h1v1h-1zM797.9 180.8h1v1h-1zM778.6 175.3h1v1h-1zM794.5 173.8h1v1h-1zM797.3 184.3h1v1h-1zM749.7 130.7h1v1h-1zM757.6 111.5h1v1h-1zM805.3 172.1h1v1h-1zM768.7 165.6h1v1h-1z" fill="#4bb4e2" fill-opacity="0.4"/><path d="M770.3 190.4h1v1h-1zM775.8 190h1v1h-1zM763.6 119.2h1v1h-1zM746.4 173.6h1v1h-1zM740.4 132.3h1v1h-1zM740.3 130.6h1v1h-1zM816 177.5h1v1h-1zM788.3 182.1h1v1h-1zM750.3 155.2h1v1h-1zM839.1 120.8h1v1h-1z" fill="#62c0e6" fill-opacity="0.4"/><path d="M799.6 174h1v1h-1zM808.5 131.5h1v1h-1zM803.8 158.6h1v1h-1zM748.6 152.7h1v1h-1zM811.8 158h1v1h-1zM752.8 181.1h1v1h-1zM823.6 192.8h1v1h-1zM813.9 174.4h1v1h-1zM791.2 174.6h1v1h-1zM770 171.1h1v1h-1zM803.7 166h1v1h-1zM763.7 155.4h1v1h-1zM810.2 177.5h1v1h-1z" fill="#3a9fd6" fill-opacity="0.4"/><path d="M757.9 186.9h1v1h-1zM782.3 150.9h1v1h-1zM808.2 164.6h1v1h-1zM788.1 189.5h1v1h-1zM772.8 165.4h1v1h-1zM764.5 151.3h1v1h-1zM809.3 159.3h1v1h-1zM779.2 129.1h1v1h-1zM830.8 125.5h1v1h-1zM752.2 175.6h1v1h-1z" fill="#7fcbe8" fill-opacity="0.4"/><path d="M770.7 147.7h1v1h-1zM835.5 151.1h1v1h-1zM798 126.7h1v1h-1zM742.3 176.9h1v1h-1zM814.9 143.6h1v1h-1zM781.1 190.5h1v1h-1zM756.9 165.9h1v1h-1zM825.5 140.2h1v1h-1z" fill="#4aa6d4" fill-opacity="0.4"/><path d="M736.1 147.7h1v1h-1zM825.8 130.8h1v1h-1zM830.8 154.7h1v1h-1zM838 158.5h1v1h-1zM772.2 165.9h1v1h-1zM817.6 163.7h1v1h-1zM798.8 135.4h1v1h-1zM834.7 158.3h1v1h-1zM785.6 131.9h1v1h-1zM796.7 186.6h1v1h-1z" fill="#5cbcd6" fill-opacity="0.4"/><path d="M776.9 125.3h1v1h-1zM752.2 174.6h1v1h-1zM793.4 186.3h1v1h-1zM806.4 189h1v1h-1zM788.8 185.2h1v1h-1zM798.8 161.8h1v1h-1zM753.4 174.7h1v1h-1zM758.6 163.4h1v1h-1zM757.6 119.6h1v1h-1z" fill="#8fb4c4" fill-opacity="0.4"/>
<path d="M832.6 91.8h0.9v0.9h-0.9zM818.3 101.5h0.9v0.9h-0.9zM832.1 99h0.9v0.9h-0.9zM823.7 97.4h0.9v0.9h-0.9zM828.3 92.6h0.9v0.9h-0.9zM834.6 90.2h0.9v0.9h-0.9zM831.3 100.4h0.9v0.9h-0.9zM825 104h0.9v0.9h-0.9zM826.9 99h0.9v0.9h-0.9zM813.6 105.7h0.9v0.9h-0.9zM826.5 86.7h0.9v0.9h-0.9zM824.2 101.2h0.9v0.9h-0.9zM825.6 102.5h0.9v0.9h-0.9zM834.6 80.7h0.9v0.9h-0.9zM822.2 91h0.9v0.9h-0.9zM828.7 93.8h0.9v0.9h-0.9zM817.4 103.7h0.9v0.9h-0.9zM815.2 92.8h0.9v0.9h-0.9zM830.8 97.2h0.9v0.9h-0.9zM823.4 106.3h0.9v0.9h-0.9zM825.3 102.4h0.9v0.9h-0.9zM824.4 108.3h0.9v0.9h-0.9zM826.6 99.5h0.9v0.9h-0.9zM829.5 96.2h0.9v0.9h-0.9zM822.7 91.7h0.9v0.9h-0.9zM824.9 89.9h0.9v0.9h-0.9zM824.3 109.1h0.9v0.9h-0.9zM825.8 98.3h0.9v0.9h-0.9zM825.8 100.7h0.9v0.9h-0.9zM819.8 99.9h0.9v0.9h-0.9zM825.5 101.1h0.9v0.9h-0.9zM820 100.5h0.9v0.9h-0.9zM818.1 90.7h0.9v0.9h-0.9zM829.2 114.9h0.9v0.9h-0.9zM825.1 92.4h0.9v0.9h-0.9zM821.4 95.7h0.9v0.9h-0.9zM828.5 91.6h0.9v0.9h-0.9zM826.9 95.2h0.9v0.9h-0.9zM825.1 106h0.9v0.9h-0.9zM809.6 93h0.9v0.9h-0.9zM819.6 87.5h0.9v0.9h-0.9zM823 93.7h0.9v0.9h-0.9zM819.1 101.7h0.9v0.9h-0.9zM827.5 107.8h0.9v0.9h-0.9zM819.6 90.7h0.9v0.9h-0.9zM826.2 87h0.9v0.9h-0.9zM818.5 100.5h0.9v0.9h-0.9zM820.8 105.9h0.9v0.9h-0.9zM825.8 82.1h0.9v0.9h-0.9zM824.3 102.2h0.9v0.9h-0.9zM817.6 91.9h0.9v0.9h-0.9zM822.4 111h0.9v0.9h-0.9zM830.3 107.9h0.9v0.9h-0.9zM823.5 97.2h0.9v0.9h-0.9zM809.1 94h0.9v0.9h-0.9zM828.9 94.4h0.9v0.9h-0.9zM825.3 93.1h0.9v0.9h-0.9zM818.8 102.4h0.9v0.9h-0.9zM824.2 94.4h0.9v0.9h-0.9zM820.8 91.4h0.9v0.9h-0.9zM820.5 108.4h0.9v0.9h-0.9zM828.3 100.2h0.9v0.9h-0.9zM828.2 109.9h0.9v0.9h-0.9zM821.8 103.3h0.9v0.9h-0.9zM832.7 93h0.9v0.9h-0.9zM821.5 90.8h0.9v0.9h-0.9zM831.3 101.7h0.9v0.9h-0.9zM824.1 104.4h0.9v0.9h-0.9zM818.7 93.1h0.9v0.9h-0.9zM822.2 101.3h0.9v0.9h-0.9zM825.2 92.3h0.9v0.9h-0.9zM818.3 108.4h0.9v0.9h-0.9zM826.9 106.3h0.9v0.9h-0.9zM835.3 91.3h0.9v0.9h-0.9zM829.1 91.7h0.9v0.9h-0.9zM823.3 101h0.9v0.9h-0.9zM824 96.9h0.9v0.9h-0.9zM820.4 88.8h0.9v0.9h-0.9zM824.6 112.7h0.9v0.9h-0.9zM818.9 95.9h0.9v0.9h-0.9zM817.2 110.7h0.9v0.9h-0.9zM818.9 107.3h0.9v0.9h-0.9zM826.1 95.6h0.9v0.9h-0.9zM820.5 88.2h0.9v0.9h-0.9zM826.7 98h0.9v0.9h-0.9zM825.9 95.2h0.9v0.9h-0.9zM829.7 97.8h0.9v0.9h-0.9zM818.7 99.1h0.9v0.9h-0.9zM828 93.3h0.9v0.9h-0.9zM834.7 106.2h0.9v0.9h-0.9zM820.8 107.4h0.9v0.9h-0.9z" fill="#f98300" fill-opacity="0.7"/><path d="M823.6 91.8h0.9v0.9h-0.9zM835.8 107.6h0.9v0.9h-0.9zM828.8 102h0.9v0.9h-0.9zM832.2 103.4h0.9v0.9h-0.9zM832.2 104.3h0.9v0.9h-0.9zM825.6 96h0.9v0.9h-0.9zM827.4 88.8h0.9v0.9h-0.9zM823.7 109h0.9v0.9h-0.9zM830 97.4h0.9v0.9h-0.9zM829.7 110.9h0.9v0.9h-0.9zM825.1 109.1h0.9v0.9h-0.9zM821.4 97.3h0.9v0.9h-0.9zM827.9 93.7h0.9v0.9h-0.9zM826.8 107.5h0.9v0.9h-0.9zM821.6 85.3h0.9v0.9h-0.9zM830.5 93.1h0.9v0.9h-0.9zM815.4 110.5h0.9v0.9h-0.9zM819.4 114h0.9v0.9h-0.9zM811.6 102.4h0.9v0.9h-0.9zM829.6 93.7h0.9v0.9h-0.9zM816.8 91.7h0.9v0.9h-0.9zM818.6 101.6h0.9v0.9h-0.9zM825.5 101.6h0.9v0.9h-0.9zM826.3 106.8h0.9v0.9h-0.9zM820.7 91.6h0.9v0.9h-0.9zM835.8 111.6h0.9v0.9h-0.9zM822.7 111.1h0.9v0.9h-0.9zM832.8 91.4h0.9v0.9h-0.9zM841.8 93h0.9v0.9h-0.9zM830.6 98h0.9v0.9h-0.9zM819.3 95.9h0.9v0.9h-0.9zM823.9 87.1h0.9v0.9h-0.9zM828.3 90.6h0.9v0.9h-0.9zM826 96.4h0.9v0.9h-0.9zM823.4 101h0.9v0.9h-0.9zM825.8 103.7h0.9v0.9h-0.9zM822.8 96.4h0.9v0.9h-0.9zM819 93.1h0.9v0.9h-0.9zM839 101.3h0.9v0.9h-0.9zM821.8 105.3h0.9v0.9h-0.9zM819 112.5h0.9v0.9h-0.9zM813.9 89.4h0.9v0.9h-0.9zM820.2 87.4h0.9v0.9h-0.9zM837.1 113.2h0.9v0.9h-0.9zM819.9 109.4h0.9v0.9h-0.9zM824.9 104.1h0.9v0.9h-0.9zM812.5 94.4h0.9v0.9h-0.9zM826.9 96h0.9v0.9h-0.9zM823.2 109.5h0.9v0.9h-0.9zM808 104.1h0.9v0.9h-0.9zM827 87.3h0.9v0.9h-0.9zM826.8 92.7h0.9v0.9h-0.9zM825.6 108.2h0.9v0.9h-0.9zM827.9 100h0.9v0.9h-0.9zM817.8 110.7h0.9v0.9h-0.9zM823.4 89h0.9v0.9h-0.9zM817.8 103.5h0.9v0.9h-0.9zM812.3 100.5h0.9v0.9h-0.9zM820.3 92.7h0.9v0.9h-0.9zM834.1 96.6h0.9v0.9h-0.9zM828.5 109.6h0.9v0.9h-0.9zM821.2 88.6h0.9v0.9h-0.9zM838.7 102.5h0.9v0.9h-0.9zM816.7 105.8h0.9v0.9h-0.9zM833.5 105.5h0.9v0.9h-0.9zM814.7 86.3h0.9v0.9h-0.9zM819.9 84.3h0.9v0.9h-0.9zM827.7 97.4h0.9v0.9h-0.9zM819.4 83.9h0.9v0.9h-0.9zM826.7 94.2h0.9v0.9h-0.9zM821.7 106.7h0.9v0.9h-0.9zM822 103.2h0.9v0.9h-0.9zM830.8 103.4h0.9v0.9h-0.9zM829.9 93.9h0.9v0.9h-0.9zM825.4 96.6h0.9v0.9h-0.9zM828.9 100.1h0.9v0.9h-0.9zM831.2 105.8h0.9v0.9h-0.9zM824.5 91h0.9v0.9h-0.9zM828.1 99.6h0.9v0.9h-0.9zM822.6 107.6h0.9v0.9h-0.9zM828.7 99.5h0.9v0.9h-0.9zM814.7 106.6h0.9v0.9h-0.9zM822.9 93.5h0.9v0.9h-0.9zM815.9 105.9h0.9v0.9h-0.9zM833.1 98.7h0.9v0.9h-0.9zM828.5 82.9h0.9v0.9h-0.9zM821.3 86.7h0.9v0.9h-0.9zM819.3 103.1h0.9v0.9h-0.9zM812.4 95.7h0.9v0.9h-0.9zM831.5 97.9h0.9v0.9h-0.9zM827.9 96h0.9v0.9h-0.9zM811.8 103.2h0.9v0.9h-0.9zM820 102.5h0.9v0.9h-0.9zM822.5 81.2h0.9v0.9h-0.9zM822.9 95.1h0.9v0.9h-0.9zM820.7 104.1h0.9v0.9h-0.9zM830.9 100.9h0.9v0.9h-0.9zM813.9 94h0.9v0.9h-0.9zM822.1 97.8h0.9v0.9h-0.9zM832.8 112.1h0.9v0.9h-0.9z" fill="#ec9440" fill-opacity="0.7"/><path d="M816.7 101.4h0.9v0.9h-0.9zM837.3 88.6h0.9v0.9h-0.9zM828 100.6h0.9v0.9h-0.9zM822.4 108.8h0.9v0.9h-0.9zM830.8 103.3h0.9v0.9h-0.9zM838.4 95h0.9v0.9h-0.9zM815.6 106.3h0.9v0.9h-0.9zM814.4 112.1h0.9v0.9h-0.9zM822.7 102.6h0.9v0.9h-0.9zM822.7 97.7h0.9v0.9h-0.9zM831.9 110.8h0.9v0.9h-0.9zM821.6 92.9h0.9v0.9h-0.9zM830.8 107h0.9v0.9h-0.9zM825.2 101.5h0.9v0.9h-0.9zM823.4 103.1h0.9v0.9h-0.9zM831.8 91.9h0.9v0.9h-0.9zM836.1 101.7h0.9v0.9h-0.9zM819.3 96.6h0.9v0.9h-0.9zM834.2 98.9h0.9v0.9h-0.9zM826.5 119h0.9v0.9h-0.9zM832.1 85.6h0.9v0.9h-0.9zM822.4 109.6h0.9v0.9h-0.9zM822.3 94.2h0.9v0.9h-0.9zM828.7 104.2h0.9v0.9h-0.9zM815.7 94h0.9v0.9h-0.9zM826.8 97.6h0.9v0.9h-0.9zM837 99.8h0.9v0.9h-0.9zM812.9 94.1h0.9v0.9h-0.9zM826.3 80.6h0.9v0.9h-0.9zM821.3 104.1h0.9v0.9h-0.9zM834.4 93.3h0.9v0.9h-0.9zM825.2 100h0.9v0.9h-0.9zM827.2 99.5h0.9v0.9h-0.9zM816.8 94.7h0.9v0.9h-0.9zM815.4 77.3h0.9v0.9h-0.9zM816.2 87.7h0.9v0.9h-0.9zM827.2 103.3h0.9v0.9h-0.9zM825.9 102.4h0.9v0.9h-0.9zM821.9 93h0.9v0.9h-0.9zM837.1 85.3h0.9v0.9h-0.9zM817.1 99.7h0.9v0.9h-0.9zM826.8 100.6h0.9v0.9h-0.9zM825.6 92.2h0.9v0.9h-0.9zM831 96h0.9v0.9h-0.9zM824.5 87h0.9v0.9h-0.9zM812.4 104.2h0.9v0.9h-0.9zM818.7 86.5h0.9v0.9h-0.9zM833 87h0.9v0.9h-0.9zM826.1 117.4h0.9v0.9h-0.9zM820.7 101.2h0.9v0.9h-0.9zM829.4 97.2h0.9v0.9h-0.9zM821.9 96h0.9v0.9h-0.9zM830.9 98h0.9v0.9h-0.9zM819.1 108.1h0.9v0.9h-0.9zM815.3 106.6h0.9v0.9h-0.9zM816.8 94.5h0.9v0.9h-0.9zM827.5 96.9h0.9v0.9h-0.9zM812.4 114.5h0.9v0.9h-0.9zM819.6 112.1h0.9v0.9h-0.9zM827.2 108h0.9v0.9h-0.9zM828.4 97.4h0.9v0.9h-0.9zM828.5 105.9h0.9v0.9h-0.9zM818.3 88.9h0.9v0.9h-0.9zM831.7 87.2h0.9v0.9h-0.9zM824.7 93.1h0.9v0.9h-0.9zM838.3 98.1h0.9v0.9h-0.9zM822.8 94.7h0.9v0.9h-0.9zM824 87.7h0.9v0.9h-0.9zM819.5 109.3h0.9v0.9h-0.9zM829.2 99.2h0.9v0.9h-0.9zM819.8 102.8h0.9v0.9h-0.9zM817.1 88.9h0.9v0.9h-0.9zM830.6 96.5h0.9v0.9h-0.9zM816.5 105.3h0.9v0.9h-0.9zM843.4 89.6h0.9v0.9h-0.9zM816.9 102.2h0.9v0.9h-0.9zM824.1 86.8h0.9v0.9h-0.9zM834.2 98.2h0.9v0.9h-0.9zM815 103.6h0.9v0.9h-0.9zM826 107.3h0.9v0.9h-0.9zM817.5 95.1h0.9v0.9h-0.9zM815.7 99.2h0.9v0.9h-0.9zM819.9 111.4h0.9v0.9h-0.9zM820.6 111.8h0.9v0.9h-0.9zM828.3 113.4h0.9v0.9h-0.9zM819.2 91.6h0.9v0.9h-0.9zM820.7 86.5h0.9v0.9h-0.9zM821.8 96.3h0.9v0.9h-0.9zM827.9 89.9h0.9v0.9h-0.9zM825.3 98.9h0.9v0.9h-0.9zM819.4 103.3h0.9v0.9h-0.9zM831 110.5h0.9v0.9h-0.9zM827.6 98.6h0.9v0.9h-0.9zM822.4 108.8h0.9v0.9h-0.9zM822 101.5h0.9v0.9h-0.9zM826 114.1h0.9v0.9h-0.9zM835 95.8h0.9v0.9h-0.9zM830.8 101.9h0.9v0.9h-0.9zM826.8 101.1h0.9v0.9h-0.9zM818.8 103.2h0.9v0.9h-0.9zM824.9 99.9h0.9v0.9h-0.9zM822.6 116.6h0.9v0.9h-0.9zM820.3 106.1h0.9v0.9h-0.9zM821.5 102.1h0.9v0.9h-0.9zM818.5 103h0.9v0.9h-0.9zM827.1 101.9h0.9v0.9h-0.9zM823.7 83.3h0.9v0.9h-0.9zM822.3 89.2h0.9v0.9h-0.9zM822.6 104.7h0.9v0.9h-0.9z" fill="#d98a3a" fill-opacity="0.7"/>
<path d="M827.9 109.9h0.9v0.9h-0.9zM821.4 114.8h0.9v0.9h-0.9zM818.3 105.5h0.9v0.9h-0.9zM814.5 101.1h0.9v0.9h-0.9zM812.8 101.5h0.9v0.9h-0.9zM819.7 111h0.9v0.9h-0.9zM815.6 111.9h0.9v0.9h-0.9zM812.5 111.7h0.9v0.9h-0.9zM828 112.8h0.9v0.9h-0.9zM815.8 117.1h0.9v0.9h-0.9zM835.4 109.9h0.9v0.9h-0.9zM814.4 110.2h0.9v0.9h-0.9zM826.1 109.7h0.9v0.9h-0.9zM813.7 106.8h0.9v0.9h-0.9zM835.9 102.2h0.9v0.9h-0.9zM817.5 109.8h0.9v0.9h-0.9zM817.4 113.7h0.9v0.9h-0.9zM826.2 100.6h0.9v0.9h-0.9zM819.5 101.7h0.9v0.9h-0.9zM818.9 104.9h0.9v0.9h-0.9zM836.7 101.2h0.9v0.9h-0.9zM821.6 117.1h0.9v0.9h-0.9zM827.4 116.3h0.9v0.9h-0.9zM831.6 100.8h0.9v0.9h-0.9zM835.6 103.4h0.9v0.9h-0.9zM835.6 113.4h0.9v0.9h-0.9zM819.2 116.6h0.9v0.9h-0.9zM835.7 110.7h0.9v0.9h-0.9zM825.9 111.3h0.9v0.9h-0.9zM823.6 109.5h0.9v0.9h-0.9zM828.7 116.8h0.9v0.9h-0.9zM832.5 116.5h0.9v0.9h-0.9zM833.5 107.5h0.9v0.9h-0.9zM832.3 102.9h0.9v0.9h-0.9zM820.4 101.8h0.9v0.9h-0.9z" fill="#f98300" fill-opacity="0.65"/><path d="M825.3 112.3h0.9v0.9h-0.9zM821.9 112.2h0.9v0.9h-0.9zM813 110.4h0.9v0.9h-0.9zM819.4 111.7h0.9v0.9h-0.9zM836.7 111.3h0.9v0.9h-0.9zM813.2 103.6h0.9v0.9h-0.9zM816.5 116.2h0.9v0.9h-0.9zM824.8 107.1h0.9v0.9h-0.9zM836.5 103.7h0.9v0.9h-0.9zM824.7 116.7h0.9v0.9h-0.9zM824 112h0.9v0.9h-0.9zM817.4 111.6h0.9v0.9h-0.9zM836.3 113.5h0.9v0.9h-0.9zM820 112.8h0.9v0.9h-0.9zM816.1 111h0.9v0.9h-0.9zM825.1 103.5h0.9v0.9h-0.9zM812.4 111.9h0.9v0.9h-0.9zM813.3 101.6h0.9v0.9h-0.9zM822.3 109.3h0.9v0.9h-0.9zM813.1 105.8h0.9v0.9h-0.9zM824.1 105.3h0.9v0.9h-0.9zM820.7 113.6h0.9v0.9h-0.9zM833 102.7h0.9v0.9h-0.9zM824.9 100.5h0.9v0.9h-0.9zM821.7 105.4h0.9v0.9h-0.9zM824.6 113.1h0.9v0.9h-0.9zM822.8 116.5h0.9v0.9h-0.9zM825.1 100.4h0.9v0.9h-0.9zM832.5 100.3h0.9v0.9h-0.9zM823.7 114.3h0.9v0.9h-0.9zM832.7 111.4h0.9v0.9h-0.9zM835.2 109.3h0.9v0.9h-0.9zM829.7 105.8h0.9v0.9h-0.9zM835.3 102h0.9v0.9h-0.9zM816.9 107.2h0.9v0.9h-0.9zM831.2 116.2h0.9v0.9h-0.9zM820.7 105h0.9v0.9h-0.9zM825.9 108.9h0.9v0.9h-0.9zM834.4 108.2h0.9v0.9h-0.9zM828.8 108.8h0.9v0.9h-0.9zM813.3 116.7h0.9v0.9h-0.9zM818.5 103.8h0.9v0.9h-0.9zM818.3 100.5h0.9v0.9h-0.9zM813 109.4h0.9v0.9h-0.9zM814.8 110.1h0.9v0.9h-0.9zM823.8 103.9h0.9v0.9h-0.9zM812.1 106.9h0.9v0.9h-0.9z" fill="#ec9440" fill-opacity="0.65"/><path d="M816.9 105.4h0.9v0.9h-0.9zM813.1 115.3h0.9v0.9h-0.9zM834.1 103.1h0.9v0.9h-0.9zM827.4 102.2h0.9v0.9h-0.9zM830.4 108.9h0.9v0.9h-0.9zM834.3 100.4h0.9v0.9h-0.9zM826.1 105.6h0.9v0.9h-0.9zM819.5 105.9h0.9v0.9h-0.9zM816.3 109.6h0.9v0.9h-0.9zM817.6 117.1h0.9v0.9h-0.9zM821.2 111.8h0.9v0.9h-0.9zM820.2 114.1h0.9v0.9h-0.9zM824.1 107.4h0.9v0.9h-0.9zM833.6 102h0.9v0.9h-0.9zM816.2 113.9h0.9v0.9h-0.9zM827.8 110.5h0.9v0.9h-0.9zM817.5 105h0.9v0.9h-0.9zM829.3 104h0.9v0.9h-0.9zM826.7 106.4h0.9v0.9h-0.9zM827.4 105.6h0.9v0.9h-0.9zM814.5 111.9h0.9v0.9h-0.9zM834.6 113.1h0.9v0.9h-0.9zM815.1 106.9h0.9v0.9h-0.9zM830.6 107.5h0.9v0.9h-0.9zM818.2 109.1h0.9v0.9h-0.9zM831.3 112.2h0.9v0.9h-0.9zM824.6 114.2h0.9v0.9h-0.9zM828.8 110.6h0.9v0.9h-0.9zM819.2 104.8h0.9v0.9h-0.9zM816.7 101.6h0.9v0.9h-0.9zM814.1 112.6h0.9v0.9h-0.9zM834 117.2h0.9v0.9h-0.9zM828.9 110.2h0.9v0.9h-0.9zM817.2 113.1h0.9v0.9h-0.9zM827.9 106.8h0.9v0.9h-0.9zM826.5 101.7h0.9v0.9h-0.9zM814 102.1h0.9v0.9h-0.9zM819.8 108.9h0.9v0.9h-0.9z" fill="#d98a3a" fill-opacity="0.65"/>
<path d="M835.2 91.3h0.9v0.9h-0.9zM838.1 86.1h0.9v0.9h-0.9zM836.8 85.9h0.9v0.9h-0.9zM830.3 88.2h0.9v0.9h-0.9zM836 89.5h0.9v0.9h-0.9zM833.9 87.1h0.9v0.9h-0.9zM833 86.1h0.9v0.9h-0.9zM838.4 92.3h0.9v0.9h-0.9zM831.4 82.5h0.9v0.9h-0.9zM835 83h0.9v0.9h-0.9zM831.9 85.1h0.9v0.9h-0.9zM833.2 88.6h0.9v0.9h-0.9zM834.4 84h0.9v0.9h-0.9zM831.9 89.9h0.9v0.9h-0.9zM831.6 89.4h0.9v0.9h-0.9zM834.3 83.3h0.9v0.9h-0.9zM831.7 85h0.9v0.9h-0.9zM835 81.8h0.9v0.9h-0.9zM833.9 85.9h0.9v0.9h-0.9zM830.3 86.8h0.9v0.9h-0.9zM831.5 78.5h0.9v0.9h-0.9zM832.7 85.2h0.9v0.9h-0.9zM836.8 90.2h0.9v0.9h-0.9zM836.1 89.8h0.9v0.9h-0.9zM835.2 88.8h0.9v0.9h-0.9zM834.4 85.2h0.9v0.9h-0.9zM830.9 87.9h0.9v0.9h-0.9zM834.6 82.1h0.9v0.9h-0.9zM834.1 88h0.9v0.9h-0.9zM833.3 87.3h0.9v0.9h-0.9zM835.7 90.1h0.9v0.9h-0.9zM830.2 85.7h0.9v0.9h-0.9zM833.2 82.8h0.9v0.9h-0.9zM836.3 88.7h0.9v0.9h-0.9zM834.9 79.5h0.9v0.9h-0.9zM832.6 88.1h0.9v0.9h-0.9zM831.1 85.2h0.9v0.9h-0.9zM834.5 86.7h0.9v0.9h-0.9zM833.6 89h0.9v0.9h-0.9z" fill="#f98300" fill-opacity="0.7"/><path d="M832.2 87.7h0.9v0.9h-0.9zM836.8 78.3h0.9v0.9h-0.9zM836.3 85.8h0.9v0.9h-0.9zM832.5 84.6h0.9v0.9h-0.9zM835.7 86.9h0.9v0.9h-0.9zM831.7 84.2h0.9v0.9h-0.9zM835.5 84.9h0.9v0.9h-0.9zM834.9 87.3h0.9v0.9h-0.9zM835.8 82.9h0.9v0.9h-0.9zM836 88.3h0.9v0.9h-0.9zM833.9 83.8h0.9v0.9h-0.9zM835.7 84.5h0.9v0.9h-0.9zM834.6 84.3h0.9v0.9h-0.9zM833.7 88.2h0.9v0.9h-0.9zM835.4 81.5h0.9v0.9h-0.9zM835.4 89.5h0.9v0.9h-0.9zM837.3 83.1h0.9v0.9h-0.9zM835.6 82h0.9v0.9h-0.9zM833.7 88.5h0.9v0.9h-0.9zM833.1 85.9h0.9v0.9h-0.9zM833.7 88.1h0.9v0.9h-0.9z" fill="#ec9440" fill-opacity="0.7"/>
<path d="M815.4 92C816 89.5 817.5 88.3 819 87.8C821 86.8 823.5 86 826 85.5L830 84.6L834 83.5L836.5 82L834.6 87L833.4 90C833.2 93 833 96.5 832.5 99.5C832 102 831 103.5 830 105C829 106.5 827.5 107.2 825.5 107.3C823 107.3 820.5 105.5 819 103.5C817.5 101.5 816.2 98.5 815.7 96C815.4 94.5 815.3 93 815.4 92Z" fill="#f98300"/>
<path d="M837.4 82.2h0.9v0.9h-0.9zM837.9 82.4h0.9v0.9h-0.9zM832.3 85.5h0.9v0.9h-0.9zM835.1 82.3h0.9v0.9h-0.9zM834.7 82.8h0.9v0.9h-0.9zM838.3 83.1h0.9v0.9h-0.9zM832.7 83.8h0.9v0.9h-0.9zM833.2 81.5h0.9v0.9h-0.9zM836 81.6h0.9v0.9h-0.9zM834 80.7h0.9v0.9h-0.9zM834.1 83.4h0.9v0.9h-0.9zM831.9 84.5h0.9v0.9h-0.9zM834.9 83.1h0.9v0.9h-0.9zM835.4 82.3h0.9v0.9h-0.9zM835.4 83.8h0.9v0.9h-0.9zM837.2 83.5h0.9v0.9h-0.9zM835.8 84.4h0.9v0.9h-0.9zM833.3 83.7h0.9v0.9h-0.9zM836.1 86.1h0.9v0.9h-0.9zM834.3 83.2h0.9v0.9h-0.9zM836 81.4h0.9v0.9h-0.9zM836.4 82.1h0.9v0.9h-0.9zM837.8 82.6h0.9v0.9h-0.9zM833.8 87.2h0.9v0.9h-0.9zM832 82.4h0.9v0.9h-0.9zM835.1 84.5h0.9v0.9h-0.9zM833 82.7h0.9v0.9h-0.9zM836.5 83.1h0.9v0.9h-0.9zM834.9 83.9h0.9v0.9h-0.9zM834 86.8h0.9v0.9h-0.9zM834.2 86.6h0.9v0.9h-0.9zM836.1 83.3h0.9v0.9h-0.9zM835.8 85.9h0.9v0.9h-0.9zM836.7 83.9h0.9v0.9h-0.9zM837.6 82.8h0.9v0.9h-0.9zM832.8 84.1h0.9v0.9h-0.9zM834.2 83.6h0.9v0.9h-0.9zM831 85h0.9v0.9h-0.9zM836.5 85.4h0.9v0.9h-0.9zM833.4 82h0.9v0.9h-0.9zM834.1 80.7h0.9v0.9h-0.9zM833 87.5h0.9v0.9h-0.9zM830.6 84.2h0.9v0.9h-0.9zM835 85.6h0.9v0.9h-0.9zM832 84.8h0.9v0.9h-0.9zM833.5 83.2h0.9v0.9h-0.9zM838.2 86.2h0.9v0.9h-0.9zM835.7 84.4h0.9v0.9h-0.9zM835.4 83.5h0.9v0.9h-0.9z" fill="#f98300" fill-opacity="0.75"/><path d="M836.7 81.8h0.9v0.9h-0.9zM833.4 81.8h0.9v0.9h-0.9zM836.5 84.9h0.9v0.9h-0.9zM835.3 82.2h0.9v0.9h-0.9zM834.5 82h0.9v0.9h-0.9zM833.6 86.2h0.9v0.9h-0.9zM837 83.8h0.9v0.9h-0.9zM833.2 84.5h0.9v0.9h-0.9zM833.3 83.6h0.9v0.9h-0.9zM832.3 85h0.9v0.9h-0.9zM832.9 84.4h0.9v0.9h-0.9zM832.3 83.6h0.9v0.9h-0.9zM833.5 82.9h0.9v0.9h-0.9zM837.9 81.2h0.9v0.9h-0.9zM834.3 84.6h0.9v0.9h-0.9zM834.4 82.5h0.9v0.9h-0.9zM834.4 82.1h0.9v0.9h-0.9zM834.8 83.8h0.9v0.9h-0.9zM836.7 77.7h0.9v0.9h-0.9zM834 81.3h0.9v0.9h-0.9zM834.2 85.7h0.9v0.9h-0.9zM834.4 84.4h0.9v0.9h-0.9zM838.7 79.5h0.9v0.9h-0.9zM835.8 84.2h0.9v0.9h-0.9zM835.1 84.7h0.9v0.9h-0.9zM835.9 85.9h0.9v0.9h-0.9zM833.7 84.4h0.9v0.9h-0.9zM834.4 84.9h0.9v0.9h-0.9zM836.1 83.9h0.9v0.9h-0.9zM834.3 83.9h0.9v0.9h-0.9zM835.1 82.1h0.9v0.9h-0.9zM836.7 81.1h0.9v0.9h-0.9zM833.5 85.6h0.9v0.9h-0.9zM835 84.1h0.9v0.9h-0.9zM837.6 84.6h0.9v0.9h-0.9zM836.6 82.6h0.9v0.9h-0.9zM833.4 83.5h0.9v0.9h-0.9zM834 80.8h0.9v0.9h-0.9zM836.6 83.2h0.9v0.9h-0.9zM835.2 81h0.9v0.9h-0.9zM835.6 83.2h0.9v0.9h-0.9z" fill="#ec9440" fill-opacity="0.75"/>
<path d="M825.4 94.4h1v1h-1zM825.7 88.4h1v1h-1zM820.6 97.9h1v1h-1zM822.2 79.2h1v1h-1zM824.6 80h1v1h-1zM834.1 98.9h1v1h-1zM827.5 90.2h1v1h-1zM818 93h1v1h-1zM824.1 89.6h1v1h-1zM824.8 98.7h1v1h-1zM827.2 87.9h1v1h-1zM812.5 94.4h1v1h-1zM820.5 97.2h1v1h-1zM832.7 104.6h1v1h-1zM825.5 101.3h1v1h-1zM832.7 94.7h1v1h-1zM825.4 99.7h1v1h-1zM823.8 91.3h1v1h-1zM820.1 94.5h1v1h-1zM820.8 99.4h1v1h-1zM822.3 103.6h1v1h-1zM830.4 86.7h1v1h-1zM829.7 92h1v1h-1zM831.3 97.7h1v1h-1zM823.8 98.7h1v1h-1zM821.1 96.5h1v1h-1zM826.1 93.6h1v1h-1zM826.1 88.3h1v1h-1zM827 87h1v1h-1zM827.4 97.5h1v1h-1zM827.8 91.1h1v1h-1zM840 93.1h1v1h-1zM824.9 89.9h1v1h-1zM831.6 91.7h1v1h-1zM829.3 88.7h1v1h-1zM825.8 92.3h1v1h-1zM829 92.8h1v1h-1zM819.7 97.4h1v1h-1zM817.9 88.7h1v1h-1zM828.2 83.1h1v1h-1zM828.2 92.2h1v1h-1zM819.4 96.2h1v1h-1zM827.5 91.1h1v1h-1zM823.3 99.6h1v1h-1zM828.2 94.4h1v1h-1zM820.2 88.9h1v1h-1zM821.1 98.9h1v1h-1zM827.3 96.6h1v1h-1zM831.5 92.9h1v1h-1zM822.3 92.4h1v1h-1zM834.2 82.1h1v1h-1zM825.8 97.5h1v1h-1zM824.6 109.1h1v1h-1zM830.4 99.5h1v1h-1zM819.7 97.9h1v1h-1zM822.4 95.1h1v1h-1zM825.4 91.9h1v1h-1zM827.6 104.8h1v1h-1zM829.7 96.2h1v1h-1zM814.4 101.5h1v1h-1zM830 93.7h1v1h-1zM821.9 98.9h1v1h-1zM820.2 99.8h1v1h-1zM818.8 89.3h1v1h-1zM824.5 86h1v1h-1zM824.4 98.2h1v1h-1zM817.6 100.6h1v1h-1zM821.5 98.3h1v1h-1zM825.5 92.1h1v1h-1zM821.7 84.5h1v1h-1zM820.8 90.2h1v1h-1zM832.9 101.2h1v1h-1zM817.4 99.8h1v1h-1zM825.6 92.6h1v1h-1zM826.8 99.8h1v1h-1zM821.5 93.3h1v1h-1zM825.3 89h1v1h-1zM825.4 94.5h1v1h-1zM821 89.8h1v1h-1zM826 100.3h1v1h-1zM826.2 89.8h1v1h-1zM828.3 96h1v1h-1zM827.5 102.1h1v1h-1zM819.8 94.1h1v1h-1zM821.4 89.7h1v1h-1zM834.8 100.7h1v1h-1zM815.4 97.6h1v1h-1zM821.6 102h1v1h-1zM824.9 93.9h1v1h-1zM825.2 97.3h1v1h-1zM824.6 93.7h1v1h-1zM823.8 98.1h1v1h-1zM818.7 95h1v1h-1zM823.9 92h1v1h-1zM828.3 87.2h1v1h-1zM822.6 89.8h1v1h-1zM827.3 92.2h1v1h-1zM824.7 97.3h1v1h-1zM816.3 97.7h1v1h-1zM820.7 93.4h1v1h-1zM823.9 99.9h1v1h-1zM828.3 105.7h1v1h-1zM825.4 92.1h1v1h-1zM821.9 99h1v1h-1zM832.7 97.1h1v1h-1zM821.5 96.7h1v1h-1zM825.8 95.2h1v1h-1zM820.7 79.6h1v1h-1zM821.7 101.4h1v1h-1zM825.6 81.6h1v1h-1zM824.5 83.8h1v1h-1zM834.7 96.2h1v1h-1zM818.3 99.8h1v1h-1zM820.5 98.4h1v1h-1zM824.6 87.8h1v1h-1zM827.9 86.9h1v1h-1zM831.4 95.4h1v1h-1zM819.2 84h1v1h-1zM832.8 103.8h1v1h-1zM818 105h1v1h-1zM825.4 93.7h1v1h-1zM824.1 93.4h1v1h-1zM831.9 95.9h1v1h-1zM815 107.7h1v1h-1zM829 88.4h1v1h-1zM822.7 89.5h1v1h-1zM824.7 97.4h1v1h-1zM825.7 91.4h1v1h-1zM820.4 100.1h1v1h-1zM824 108.7h1v1h-1zM820.4 99.8h1v1h-1zM824.8 90.4h1v1h-1zM831.5 95.7h1v1h-1zM819.9 93.1h1v1h-1zM829.7 87.6h1v1h-1zM831.6 99.2h1v1h-1zM823.1 103.2h1v1h-1zM833.5 98.6h1v1h-1zM825.4 106.2h1v1h-1zM832.2 89.4h1v1h-1zM823.4 93.7h1v1h-1zM822.4 85.9h1v1h-1zM829.1 95.5h1v1h-1zM825 103.6h1v1h-1zM821.6 94.7h1v1h-1zM825.9 92.4h1v1h-1zM823.9 99.7h1v1h-1zM824.5 103.1h1v1h-1zM820.6 96.2h1v1h-1zM817.1 94.3h1v1h-1zM820.9 103.3h1v1h-1zM828.3 98.1h1v1h-1zM834 103.8h1v1h-1zM828.2 90.8h1v1h-1zM817 94.8h1v1h-1zM822.7 91h1v1h-1zM823 84.9h1v1h-1zM832.2 88h1v1h-1zM821 98.5h1v1h-1zM816.1 100.6h1v1h-1zM829.4 93.1h1v1h-1zM818.9 92.1h1v1h-1zM814.9 103.5h1v1h-1zM824.8 90.5h1v1h-1zM819.8 98.5h1v1h-1zM832.3 87.2h1v1h-1zM821.5 84.2h1v1h-1zM828 96h1v1h-1zM836.2 94.2h1v1h-1zM822.2 90.6h1v1h-1zM828.9 85h1v1h-1zM828.4 96.5h1v1h-1zM821.9 89.4h1v1h-1zM830 106.5h1v1h-1zM822.2 98.3h1v1h-1zM833.6 91.2h1v1h-1zM823.2 87.5h1v1h-1zM823.7 94.5h1v1h-1zM822.3 90.4h1v1h-1zM816.2 86.7h1v1h-1zM819.4 99h1v1h-1zM821.8 89.7h1v1h-1zM827.9 98.5h1v1h-1zM820.6 91.1h1v1h-1zM828 97.3h1v1h-1zM820.1 96.5h1v1h-1zM824.3 101.9h1v1h-1zM820 100.5h1v1h-1zM826.8 88.8h1v1h-1zM830 100.6h1v1h-1zM817.6 107.3h1v1h-1zM818.5 89.3h1v1h-1zM822.8 99.8h1v1h-1zM827.6 94.4h1v1h-1zM831.7 97.5h1v1h-1zM831.8 112.5h1v1h-1zM825.5 79h1v1h-1zM822.1 88.3h1v1h-1zM825 95.6h1v1h-1zM818 87.8h1v1h-1zM823.1 93.8h1v1h-1zM810.7 101.1h1v1h-1zM824.7 94.9h1v1h-1zM826.1 88.6h1v1h-1zM824.2 101.5h1v1h-1zM830.2 97.9h1v1h-1zM823 89.8h1v1h-1zM831.5 98.3h1v1h-1zM822.2 81.3h1v1h-1zM819.9 82.8h1v1h-1zM831.1 96.2h1v1h-1zM820.5 93.3h1v1h-1zM838.4 102.7h1v1h-1zM817.3 94.2h1v1h-1zM817.9 84.1h1v1h-1zM825.4 110.3h1v1h-1zM832.9 95.3h1v1h-1zM822.5 96.3h1v1h-1zM830.1 85.7h1v1h-1zM814.4 107h1v1h-1zM826 105.2h1v1h-1zM825.8 104.4h1v1h-1zM821.2 98.2h1v1h-1zM832.9 101.5h1v1h-1zM822 100.7h1v1h-1zM820.9 85.9h1v1h-1zM827.3 104h1v1h-1zM829.1 86.9h1v1h-1zM829.2 99.4h1v1h-1zM822 79h1v1h-1zM830 100.7h1v1h-1zM827.2 83.9h1v1h-1zM816.4 101.5h1v1h-1zM828.9 98.2h1v1h-1zM823.2 97.5h1v1h-1zM821.5 93h1v1h-1zM819.8 96.7h1v1h-1zM822.2 101.1h1v1h-1zM828.4 89.8h1v1h-1zM834.5 87.7h1v1h-1zM827 102h1v1h-1zM831.5 80.7h1v1h-1zM830 102.9h1v1h-1zM832.4 80.6h1v1h-1zM820.8 94.4h1v1h-1zM822.1 103.7h1v1h-1zM820.8 103h1v1h-1zM827.6 85.6h1v1h-1zM819.1 92h1v1h-1zM825 101.4h1v1h-1zM823.5 100.9h1v1h-1zM815.8 75.2h1v1h-1zM822.6 98h1v1h-1zM822.5 88.4h1v1h-1zM826.8 107.6h1v1h-1zM823.9 90.3h1v1h-1zM819.9 107.8h1v1h-1zM824.3 99h1v1h-1zM831.2 102h1v1h-1zM819.4 101.2h1v1h-1zM829.1 98.2h1v1h-1zM830.1 91.4h1v1h-1zM824.1 91.6h1v1h-1zM828.7 90.8h1v1h-1zM826.7 87.9h1v1h-1zM823.8 92.6h1v1h-1zM823.9 95.9h1v1h-1zM823.5 93.6h1v1h-1zM813.1 102.2h1v1h-1zM821.1 93.4h1v1h-1zM819.9 101.5h1v1h-1zM819.5 98.3h1v1h-1zM831 105.7h1v1h-1zM831 99h1v1h-1zM817.9 103.4h1v1h-1zM831 100.5h1v1h-1zM828.9 95.5h1v1h-1zM821.7 102h1v1h-1zM831.5 88.3h1v1h-1zM829.5 96.6h1v1h-1zM829.4 96.8h1v1h-1zM830.6 101.7h1v1h-1zM829.4 86.1h1v1h-1zM829.1 95.4h1v1h-1zM818.4 99.7h1v1h-1zM817.1 100.9h1v1h-1zM833.9 91.8h1v1h-1zM829.6 98h1v1h-1zM828.2 86.4h1v1h-1zM827.9 96h1v1h-1zM828.7 95.2h1v1h-1zM830.6 96.9h1v1h-1zM828.3 104h1v1h-1zM825.6 101.6h1v1h-1zM825.9 98.5h1v1h-1zM821.8 100.2h1v1h-1zM831.3 94.7h1v1h-1zM829 97.9h1v1h-1zM818.7 97.5h1v1h-1zM831.8 92.1h1v1h-1z" fill="#f98300" fill-opacity="0.85"/>
<rect x="806" y="77.2" width="34.2" height="41.2" fill="none" stroke="#e58a32" stroke-width="1.9"/>
<text x="212.60" y="39.90" font-size="12.4" font-weight="normal" fill="#222" stroke="#222" stroke-width="0.2" textLength="123.80" lengthAdjust="spacingAndGlyphs">Live Cells - Ran-CD8+</text>
<text x="475.50" y="39.70" font-size="12.4" font-weight="normal" fill="#222" stroke="#222" stroke-width="0.2" textLength="110.60" lengthAdjust="spacingAndGlyphs">CD45+ - Ran-CD8+</text>
<text x="732.20" y="39.70" font-size="12.4" font-weight="normal" fill="#222" stroke="#222" stroke-width="0.2" textLength="110.50" lengthAdjust="spacingAndGlyphs">CD45+ - Ran-CD8+</text>
<text x="203.40" y="70.70" font-size="13.2" font-weight="bold" fill="#8dc655" stroke="#8dc655" stroke-width="0.35" textLength="113.20" lengthAdjust="spacingAndGlyphs">CD45+: 98.460%</text>
<text x="451.60" y="70.70" font-size="13.2" font-weight="bold" fill="#dc22dc" stroke="#dc22dc" stroke-width="0.35" textLength="105.10" lengthAdjust="spacingAndGlyphs">CD3+: 96.887%</text>
<text x="706.20" y="70.70" font-size="13.2" font-weight="bold" fill="#ea8424" stroke="#ea8424" stroke-width="0.35" textLength="104.70" lengthAdjust="spacingAndGlyphs">CD8+: 94.642%</text>
<text x="204.80" y="253.80" font-size="11.2" font-weight="normal" fill="#222" stroke="#222" stroke-width="0.2" textLength="139.20" lengthAdjust="spacingAndGlyphs">CD45 - Alexa Fluor™ 700-A</text>
<text x="488.00" y="253.60" font-size="11.2" font-weight="normal" fill="#222" stroke="#222" stroke-width="0.2" textLength="86.90" lengthAdjust="spacingAndGlyphs">CD3 - APC-Cy7-A</text>
<text x="744.40" y="253.60" font-size="11.2" font-weight="normal" fill="#222" stroke="#222" stroke-width="0.2" textLength="86.60" lengthAdjust="spacingAndGlyphs">CD3 - APC-Cy7-A</text>
<text transform="translate(165.00 176.60) rotate(-90)" x="0" y="0" font-size="11.2" fill="#222" stroke="#222" stroke-width="0.2" textLength="72.10" lengthAdjust="spacingAndGlyphs">SSC-A (10^3)</text>
<text transform="translate(421.80 176.60) rotate(-90)" x="0" y="0" font-size="11.2" fill="#222" stroke="#222" stroke-width="0.2" textLength="71.90" lengthAdjust="spacingAndGlyphs">SSC-A (10^3)</text>
<text transform="translate(678.10 181.20) rotate(-90)" x="0" y="0" font-size="11.2" fill="#222" stroke="#222" stroke-width="0.2" textLength="81.20" lengthAdjust="spacingAndGlyphs">CD8 - PE-Cy7-A</text>
<rect x="969.6" y="229" width="1.2" height="22" fill="#d4d4d4"/></svg>
<div class="ln" style="left:215px;top:300px;width:562px;height:1px;background:#222"></div><div class="ln" style="left:215px;top:327px;width:562px;height:1px;background:#111"></div><div class="ln" style="left:215px;top:353px;width:562px;height:1px;background:#333"></div><div class="ln" style="left:215px;top:300px;width:2px;height:54px;background:#666"></div><div class="ln" style="left:775px;top:300px;width:2px;height:54px;background:#666"></div><div class="ln" style="left:402px;top:300px;width:1px;height:54px;background:#111"></div><div class="ln" style="left:589px;top:300px;width:1px;height:54px;background:#111"></div><div class="ln" style="left:95px;top:412px;width:842px;height:2px;background:#555"></div><div class="ln" style="left:95px;top:452px;width:842px;height:1px;background:#000"></div><div class="ln" style="left:95px;top:491px;width:842px;height:2px;background:#555"></div><div class="ln" style="left:95px;top:412px;width:2px;height:81px;background:#666"></div><div class="ln" style="left:935px;top:412px;width:2px;height:81px;background:#666"></div><div class="ln" style="left:212px;top:412px;width:1px;height:81px;background:#000"></div><div class="ln" style="left:282px;top:412px;width:1px;height:81px;background:#000"></div><div class="ln" style="left:364px;top:412px;width:1px;height:81px;background:#000"></div><div class="ln" style="left:667px;top:412px;width:1px;height:81px;background:#000"></div><div class="ln" style="left:784px;top:412px;width:1px;height:81px;background:#000"></div><div class="ln" style="left:515px;top:412px;width:2px;height:81px;background:#777"></div>
<div class="tx" style="left:495.25px;top:277.98px;font-size:20.5px;font-weight:bold;transform:translateX(-50%) scaleX(0.961)">Surface Marker Summary</div><div class="tx" style="left:308.70px;top:314.18px;font-size:19.9px;font-weight:normal">CD45<sup>+</sup>/PI<sup>-</sup></div><div class="tx" style="left:495.50px;top:313.88px;font-size:19.9px;font-weight:normal">CD3<sup>+</sup> /CD45<sup>+</sup></div><div class="tx" style="left:682.10px;top:313.88px;font-size:19.9px;font-weight:normal">CD8<sup>+</sup>/CD45<sup>+</sup></div><div class="tx" style="left:308.75px;top:341.48px;font-size:19.9px;font-weight:normal">98.460%</div><div class="tx" style="left:495.30px;top:341.58px;font-size:19.9px;font-weight:normal">96.887%</div><div class="tx" style="left:682.10px;top:341.58px;font-size:19.9px;font-weight:normal">94.642%</div><div class="tx" style="left:494.75px;top:394.08px;font-size:20.5px;font-weight:bold;transform:translateX(-50%) scaleX(0.961)">Donor Demographics and Lot Specific Information</div><div class="tx" style="left:153.00px;top:432.86px;font-size:17.3px;font-weight:normal">Donor ID</div><div class="tx" style="left:247.45px;top:432.96px;font-size:17.3px;font-weight:normal">Age</div><div class="tx" style="left:322.90px;top:432.96px;font-size:17.3px;font-weight:normal">Gender</div><div class="tx" style="left:439.65px;top:432.96px;font-size:17.3px;font-weight:normal">Nationality</div><div class="tx" style="left:591.00px;top:432.96px;font-size:17.3px;font-weight:normal">Smoking/Drinking</div><div class="tx" style="left:725.40px;top:432.96px;font-size:17.3px;font-weight:normal">Blood Type</div><div class="tx" style="left:853.00px;top:432.96px;font-size:17.3px;font-weight:normal">Date of Donation</div><div class="tx" style="left:152.25px;top:470.86px;font-size:17.3px;font-weight:normal">D22F025</div><div class="tx" style="left:246.40px;top:473.06px;font-size:17.3px;font-weight:normal">24</div><div class="tx" style="left:322.80px;top:473.06px;font-size:17.3px;font-weight:normal">Male</div><div class="tx" style="left:436.65px;top:470.06px;font-size:17.3px;font-weight:normal">Pakistani</div><div class="tx" style="left:589.30px;top:470.76px;font-size:17.3px;font-weight:normal">No</div><div class="tx" style="left:725.15px;top:473.06px;font-size:17.3px;font-weight:normal">O+</div><div class="tx" style="left:860.00px;top:473.06px;font-size:17.3px;font-weight:normal">11/9/2022</div>
</body></html>
